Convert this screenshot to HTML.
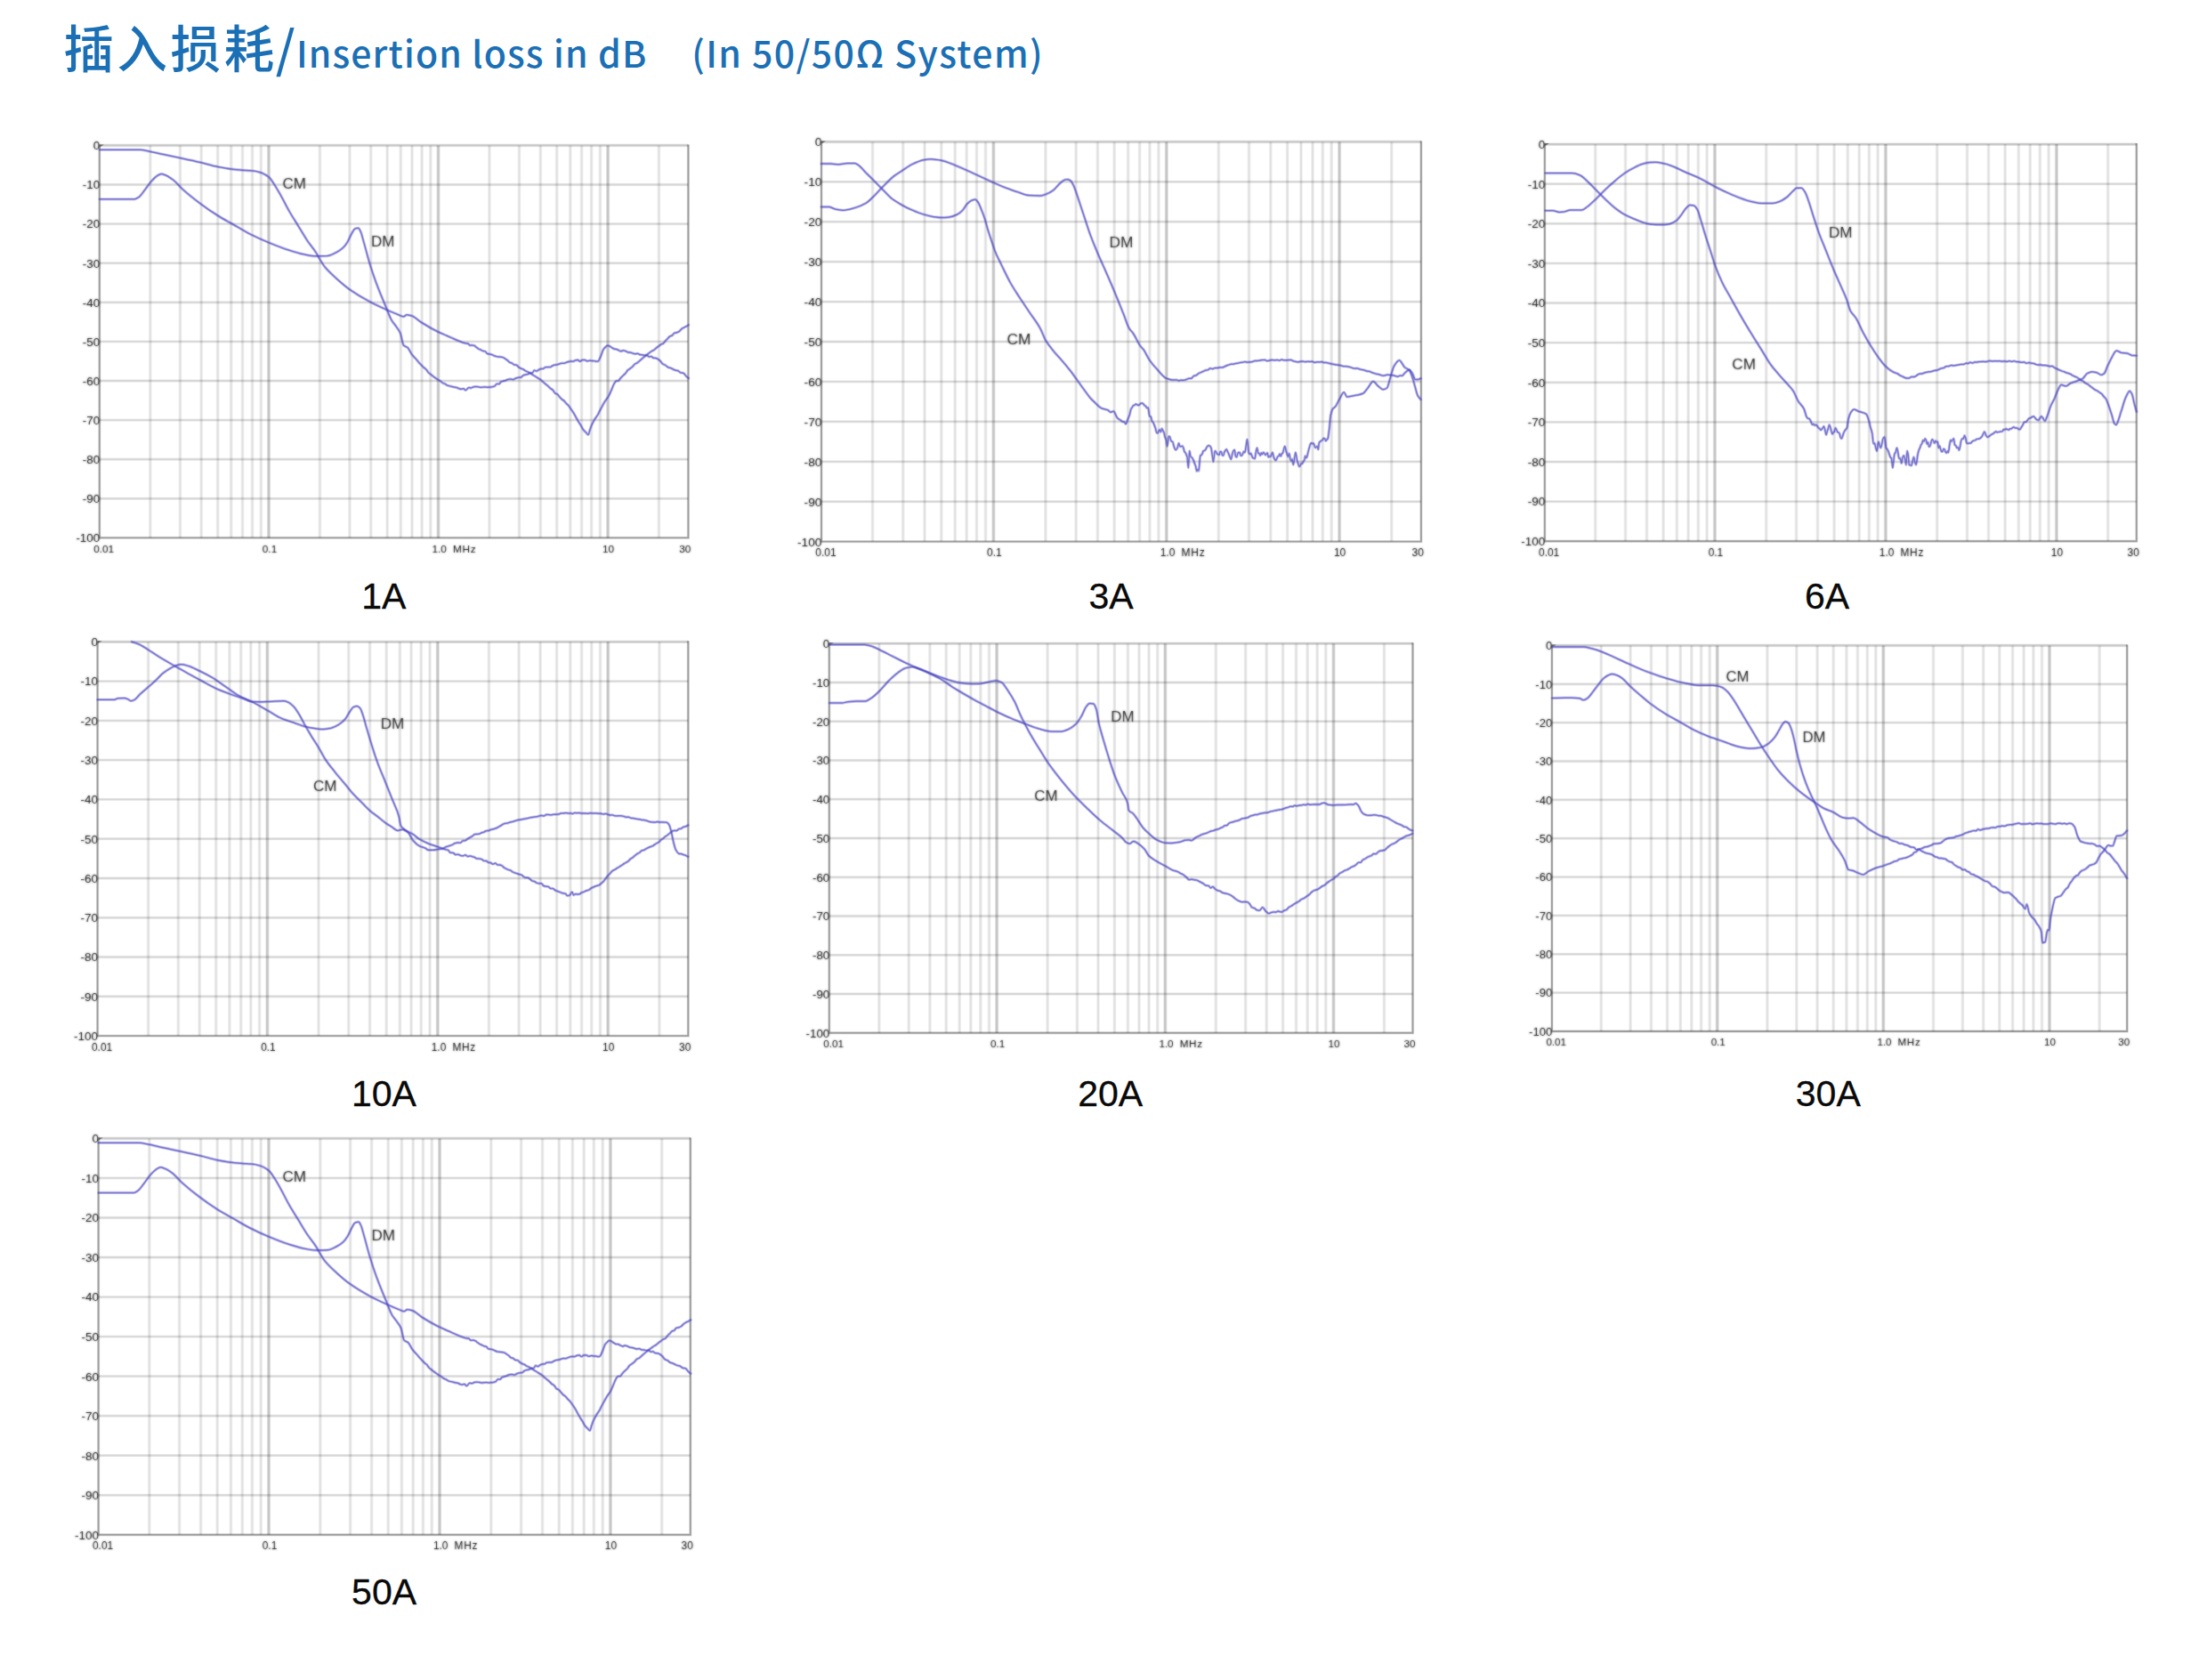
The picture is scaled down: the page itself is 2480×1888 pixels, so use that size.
<!DOCTYPE html>
<html lang="zh"><head><meta charset="utf-8"><title>插入损耗 / Insertion loss in dB</title>
<style>
html,body{margin:0;padding:0;background:#fff;}
body{width:2480px;height:1888px;overflow:hidden;position:relative;font-family:"Liberation Sans","Noto Sans CJK SC",sans-serif;}
svg{position:absolute;left:0;top:0;display:block;}
.title{position:absolute;left:0;top:0;margin:0;width:2480px;height:100px;color:#1b70b5;font-weight:500;font-family:"Noto Sans CJK SC","Liberation Sans",sans-serif;}
.title span{position:absolute;white-space:nowrap;line-height:100px;font-weight:500;}
.title .cn{left:71.4px;top:0.6px;font-size:56.5px;letter-spacing:0.064em;}
.title .cn .sl{position:static;margin-left:-2px;}
.title .e1{left:332.9px;top:7.7px;font-size:41px;letter-spacing:0.028em;}
.title .e2{left:777.3px;top:7.7px;font-size:41px;letter-spacing:0.034em;}
.ax{font-family:"Liberation Sans",sans-serif;fill:#333;}
.cv{font-family:"Liberation Sans",sans-serif;fill:#4a4a4a;}
.nm{font-family:"Liberation Sans",sans-serif;font-size:41px;fill:#0a0a0a;stroke:#0a0a0a;stroke-width:0.3px;}
.gm1,.gm2,.gh1,.gh2,.gd1,.gd2,.fr1,.fr2,.fa1,.fa2{fill:none;stroke:#000}
.gm1{stroke-width:3.8;stroke-opacity:.06}.gm2{stroke-width:2.0;stroke-opacity:.06}
.gh1{stroke-width:3.3;stroke-opacity:.07}.gh2{stroke-width:1.9;stroke-opacity:.09}
.gd1{stroke-width:4.2;stroke-opacity:.10}.gd2{stroke-width:2.5;stroke-opacity:.13}
.fr1{stroke-width:3.6;stroke-opacity:.08}.fr2{stroke-width:2.2;stroke-opacity:.14}
.fa1{stroke-width:3.3;stroke-opacity:.11}.fa2{stroke-width:1.9;stroke-opacity:.30}
.cu1,.cu2{fill:none;stroke:#4744aa;stroke-linejoin:round;stroke-linecap:round}.cu1{stroke:#5a55e6}
.cu1{stroke-width:3.3;stroke-opacity:.34}.cu2{stroke-width:1.5;stroke-opacity:.60}
</style></head><body>
<h1 class="title"><span class="cn">插入损耗<span class="sl">/</span></span><span class="e1">Insertion loss in dB</span> <span class="e2">(In 50/50Ω System)</span></h1>
<svg width="2480" height="1888" viewBox="0 0 2480 1888">
<defs><filter id="bt" x="-5%" y="-5%" width="110%" height="110%" color-interpolation-filters="sRGB"><feGaussianBlur stdDeviation="0.9" result="b"/><feComposite in="SourceGraphic" in2="b" operator="arithmetic" k1="0" k2="0.5" k3="0.75" k4="0"/></filter></defs>
<g id="chart1">
<path class="gm1" d="M168.8 163.4V604.4M202.4 163.4V604.4M226.2 163.4V604.4M244.7 163.4V604.4M259.7 163.4V604.4M272.5 163.4V604.4M283.5 163.4V604.4M293.3 163.4V604.4M359.4 163.4V604.4M392.9 163.4V604.4M416.7 163.4V604.4M435.2 163.4V604.4M450.3 163.4V604.4M463 163.4V604.4M474.1 163.4V604.4M483.8 163.4V604.4M549.9 163.4V604.4M583.5 163.4V604.4M607.3 163.4V604.4M625.7 163.4V604.4M640.8 163.4V604.4M653.6 163.4V604.4M664.6 163.4V604.4M674.4 163.4V604.4M740.4 163.4V604.4"/><path class="gm2" d="M168.8 163.4V604.4M202.4 163.4V604.4M226.2 163.4V604.4M244.7 163.4V604.4M259.7 163.4V604.4M272.5 163.4V604.4M283.5 163.4V604.4M293.3 163.4V604.4M359.4 163.4V604.4M392.9 163.4V604.4M416.7 163.4V604.4M435.2 163.4V604.4M450.3 163.4V604.4M463 163.4V604.4M474.1 163.4V604.4M483.8 163.4V604.4M549.9 163.4V604.4M583.5 163.4V604.4M607.3 163.4V604.4M625.7 163.4V604.4M640.8 163.4V604.4M653.6 163.4V604.4M664.6 163.4V604.4M674.4 163.4V604.4M740.4 163.4V604.4"/>
<path class="gh1" d="M111.8 207.5H773.4M111.8 251.6H773.4M111.8 295.7H773.4M111.8 339.8H773.4M111.8 383.9H773.4M111.8 428H773.4M111.8 472.1H773.4M111.8 516.2H773.4M111.8 560.3H773.4"/><path class="gh2" d="M111.8 207.5H773.4M111.8 251.6H773.4M111.8 295.7H773.4M111.8 339.8H773.4M111.8 383.9H773.4M111.8 428H773.4M111.8 472.1H773.4M111.8 516.2H773.4M111.8 560.3H773.4"/>
<path class="gd1" d="M302 163.4V604.4M492.5 163.4V604.4M683.1 163.4V604.4"/><path class="gd2" d="M302 163.4V604.4M492.5 163.4V604.4M683.1 163.4V604.4"/>
<path class="fr1" d="M111.8 163.4H773.4"/><path class="fr2" d="M111.8 163.4H773.4"/>
<path class="fa1" d="M111.8 162.4V604.4H773.4V162.4"/><path class="fa2" d="M111.8 162.4V604.4H773.4V162.4"/>
<path d="M112.3 165.2l4.5 -2.8l-4.5 0z" style="fill:#555;stroke:none;fill-opacity:.8"/>
<defs><path id="c1cm" d="M112 168.3c15.2-0 30.4-0 45.5-0c3.4-0 6.7 1.1 10 1.7c5 1 10 2.2 15 3.3c6.7 1.4 13.4 2.8 20 4.2c7.5 1.6 15.1 3.2 22.6 5c6.6 1.6 13.3 3.7 20 5c5 1 10 1.9 15 2.5c4.1 0.5 8.3 1 12.5 1.3c3.3 0.2 6.6 0.2 10 0.5c3.3 0.2 6.7 1 10 2c2.5 0.7 5 2.1 7.5 3.7c1 0.7 2 1.5 3 2.5c1.5 1.6 3 4 4.5 6.3c2.5 3.7 5 8.1 7.5 12.5c3.3 5.8 6.7 12.9 10 18.7c3.3 5.8 6.7 10.9 10 16.3c3.3 5.4 6.7 11.3 10 16.3c3.3 4.9 6.7 8.5 10 13.7c1.7 2.6 3.4 6.1 5 8.8c1.7 2.7 3.4 5.4 5 7.5c4.2 5.1 8.4 8.7 12.5 12.5c5 4.5 10 8.9 15 12.5c7.5 5.3 15 9.7 22.5 13.7c6.8 3.7 13.6 6.7 20.4 9.8c3.9 1.7 7.8 3.3 11.6 4.9c2.1 0.8 4.3 2.3 6.4 2.3c1.2 0 2.4-2 3.6-2c1.8 0 3.6 0.6 5.4 1.1c3.8 1.1 7.5 5.3 11.3 7.6c6.2 3.9 12.4 7.5 18.6 10.5c3.1 1.5 6.1 2.7 9.1 4c4.8 2.1 9.7 4.5 14.5 6.4c1.6 0.6 3.2 1.3 4.8 1.8c0.8 0.2 1.6 0.4 2.4 0.6c0.8 0.1 1.7 0.1 2.5 0.3c0.8 0.1 1.6 2 2.4 2c0.8-0 1.6-0.2 2.4-0.2c0.8 0 1.6 0.3 2.4 0.5c0.9 0.3 1.7 1.4 2.5 2c0.8 0.6 1.6 1.2 2.4 1.7c0.8 0.4 1.7 0.7 2.5 1.1c0.8 0.4 1.6 1 2.4 1.2c0.8 0.3 1.7 0.2 2.5 0.5c0.8 0.3 1.6 2.4 2.4 2.6c0.8 0.2 1.7 0.2 2.5 0.4c0.8 0.1 1.7 0.3 2.5 0.6c0.9 0.2 1.7 0.8 2.5 1.2c0.9 0.3 1.7 0.7 2.6 0.9c0.8 0.1 1.6 0.2 2.4 0.3c0.8 0.1 1.6 0.2 2.4 0.3c0.8 0.1 1.6 0.1 2.4 0.3c0.9 0.2 1.8 1 2.7 1.6c1 0.6 1.9 1.3 2.8 2c0.8 0.7 1.6 1.8 2.4 2.2c0.9 0.4 1.7 0.4 2.5 0.8c0.8 0.3 1.6 1.7 2.5 1.8c0.8 0.2 1.6 0.1 2.4 0.3c0.8 0.2 1.7 1.6 2.5 2.2c0.9 0.6 1.7 1.2 2.6 1.6c0.9 0.5 1.7 0.6 2.6 1c0.9 0.5 1.8 1.2 2.6 1.7c0.9 0.5 1.8 0.9 2.6 1.3c0.9 0.4 1.8 0.7 2.6 1.3c0.8 0.4 1.6 1.2 2.4 1.7c0.8 0.5 1.6 0.8 2.4 1.3c0.8 0.4 1.6 1 2.4 1.6c0.8 0.5 1.6 1 2.4 1.5c0.8 0.5 1.6 0.9 2.4 1.5c0.9 0.6 1.8 1.6 2.7 2.4c0.9 0.8 1.7 1.5 2.6 2.3c0.9 0.7 1.8 1.3 2.7 2.1c0.9 0.8 1.8 2 2.7 2.7c0.9 0.7 1.7 1 2.6 1.7c0.9 0.8 1.8 3 2.7 3.7c0.9 0.7 1.8 0.7 2.7 1.4c0.8 0.6 1.6 1.9 2.4 2.8c0.9 0.9 1.7 2 2.5 2.7c0.9 0.7 1.7 1 2.5 1.7c0.8 0.8 1.7 2.1 2.5 3c0.9 0.9 1.7 1.5 2.6 2.5c0.8 1 1.7 2.4 2.5 3.6c1 1.4 1.9 2.6 2.9 4.1c1 1.6 1.9 3.5 2.9 5.2c1 1.7 1.9 3.6 2.9 5.2c0.9 1.5 1.8 2.7 2.7 4.2c0.9 1.6 1.8 3.7 2.8 4.9c0.9 1.1 1.8 1.8 2.7 2.7c0.9 0.9 1.8 2.7 2.7 2.7c0.7-0 1.4-4.4 2.2-6.4c0.7-1.9 1.4-3.8 2.1-5.4c1-2.1 2-3.8 2.9-5.4c1.2-2 2.5-3.4 3.7-5.5c0.6-1 1.2-2.4 1.8-3.6c0.9-1.8 1.8-3.5 2.7-5.1c0.9-1.7 1.8-3.4 2.7-4.9c0.8-1.3 1.6-2.5 2.5-3.7c0.8-1.2 1.6-2.1 2.4-3.5c1-1.7 2-4.2 3-6.5c1-2.3 2-5.4 3-7.1c0.8-1.4 1.6-3 2.4-3.2c0.8-0.2 1.6-0.1 2.4-0.3c0.8-0.1 1.6-1.9 2.4-2.8c0.9-1.1 1.8-2 2.8-2.9c0.9-0.9 1.8-1.5 2.7-2.5c0.9-1 1.8-2.8 2.7-3.6c0.9-0.8 1.8-1.2 2.7-1.9c0.9-0.7 1.8-1.3 2.7-2.2c0.9-0.8 1.8-2.4 2.7-3c1-0.6 1.9-0.8 2.8-1.4c0.9-0.6 1.8-1.6 2.7-2.3c0.9-0.8 1.8-1.6 2.7-2.4c0.9-0.7 1.8-1.6 2.7-2.3c0.9-0.7 1.8-1.4 2.7-2c0.9-0.7 1.8-1.4 2.6-2.1c0.9-0.6 1.8-1.4 2.7-1.9c0.9-0.6 1.8-0.9 2.7-1.4c0.8-0.6 1.7-1.7 2.6-2.4c0.9-0.7 1.8-1.3 2.7-2c0.8-0.6 1.6-1.4 2.4-1.8c0.9-0.5 1.7-0.5 2.5-1c0.9-0.5 1.7-2.1 2.5-3c0.8-0.9 1.7-1.6 2.5-2.5c0.8-0.8 1.6-2.1 2.5-2.5c0.8-0.5 1.6-0.5 2.4-1c0.9-0.5 1.8-2.5 2.7-2.8c0.9-0.3 1.7-0.2 2.6-0.5c0.9-0.2 1.8-0.7 2.7-1.3c0.8-0.6 1.7-1.9 2.6-2.6c0.9-0.7 1.8-1.2 2.6-1.7c0.9-0.5 1.8-0.8 2.7-1.3c0.9-0.4 1.7-1 2.6-1.6"/></defs><use href="#c1cm" class="cu1"/><use href="#c1cm" class="cu2"/>
<defs><path id="c1dm" d="M112 223.8c13.1-0 26.2-0 39.3-0c1.6-0 3.3-1.4 5-2.5c2.1-1.5 4.1-4.9 6.2-7.5c2.5-3.2 5-7.3 7.5-10c2.5-2.7 5-5.5 7.5-6.8c1.3-0.6 2.5-1.5 3.8-1.5c1.7 0 3.3 0.9 5 1.5c2.9 1.2 5.8 3.3 8.7 5.5c3.4 2.6 6.7 7 10 10c6.7 6.1 13.4 11.3 20.1 16.3c6.6 5 13.3 9.6 20 13.7c5.8 3.7 11.6 6.7 17.5 10c5.8 3.4 11.6 7.1 17.5 10.1c7.7 3.9 15.3 7.3 23 10.5c7.3 3 14.7 5.9 22 8.2c5 1.6 10 3.3 15 4.3c5 0.9 10 2.2 15 2.2c4.2 0 8.4-0.1 12.5-0.2c3.4-0.2 6.7-2.2 10-3.8c2.5-1.2 5-2.8 7.5-5c1.7-1.5 3.4-3.7 5-6.2c1.7-2.6 3.4-7.2 5-10c1.3-2.1 2.5-5.1 3.8-5.6c1.2-0.4 2.5-0.7 3.7-0.7c0.9-0 1.7 2.1 2.5 3.7c1.3 2.6 2.5 8.2 3.8 12.6c2.1 7.1 4.2 15.6 6.2 22.5c2.5 8.2 5 15.6 7.5 22.5c3.4 9.1 6.7 17 10.1 25c2.5 6 5 13.3 7.5 17.5c1.7 2.9 3.4 4.4 5.1 7c1.5 2.2 3 3.8 4.5 7.2c1.2 2.8 2.5 12.3 3.7 13.6c1.5 1.6 3 1.4 4.5 2.7c1.5 1.3 3 5.2 4.5 7.3c2.1 2.8 4.3 4.7 6.4 7.2c0.8 1 1.6 2.1 2.4 3c0.8 0.9 1.6 1.6 2.5 2.5c0.8 0.8 1.6 1.7 2.5 2.5c0.8 0.7 1.6 1.1 2.4 1.9c0.9 0.8 1.7 2.6 2.5 3.5c0.9 0.8 1.7 1.4 2.5 2c1 0.8 2 1.5 2.9 2.3c1 0.7 2 1.4 2.9 2.1c1 0.7 2 1.4 2.9 2c0.9 0.5 1.7 0.9 2.6 1.4c0.8 0.6 1.7 1.6 2.5 2.1c0.9 0.4 1.7 0.6 2.5 1c0.9 0.5 1.7 1.2 2.6 1.6c0.8 0.3 1.7 0.5 2.5 0.8c0.9 0.2 1.8 0.4 2.7 0.6c0.9 0.2 1.9 0.5 2.8 0.7c0.9 0.2 1.8 0.3 2.7 0.5c0.9 0.2 1.8 1 2.7 1.2c0.8 0.3 1.6 0.5 2.4 0.5c0.8 0 1.6-0.5 2.4-0.5c0.8-0 1.6 1.8 2.4 1.8c1.3 0 2.5-3 3.7-3c0.8-0 1.6 0.4 2.4 0.4c0.8-0 1.6-0.9 2.4-1.1c0.8-0.2 1.6-0.4 2.4-0.4c1-0 2 0.1 3 0.2c1 0.1 2.1 0.6 3.1 0.6c1-0 2-0.2 3-0.3c0.7-0 1.5-0.1 2.3-0.1c0.7-0 1.5 0.3 2.3 0.3c0.7-0 1.5-0.1 2.3-0.2c0.9-0 1.9-0.1 2.9-0.2c0.9-0.2 1.9-0.5 2.9-1c0.8-0.5 1.6-2.4 2.4-2.4c0.8 0 1.6 0.1 2.4 0.1c0.8-0 1.6-2.1 2.4-2.5c0.8-0.3 1.6-0.5 2.4-0.7c0.8-0.3 1.6-0.4 2.5-0.6c0.8-0.3 1.6-1 2.4-1.2c1-0.2 2.1-0.5 3.1-0.5c1.1 0 2.2 0.5 3.2 0.5c1 0 2-1.1 3-1.5c1-0.3 2-0.8 3-0.8c0.9-0.1 1.7-0.1 2.6-0.2c0.9-0.1 1.7-1.6 2.6-2.1c0.9-0.4 1.8-0.6 2.6-0.9c0.9-0.2 1.8-0.3 2.6-0.5c0.9-0.3 1.8-1.1 2.6-1.2c0.8-0.2 1.6-0.1 2.4-0.3c0.8-0.1 1.6-2.8 2.4-2.8c0.8 0 1.6 0.9 2.4 0.9c0.8 0 1.6-1.1 2.4-1.5c0.8-0.4 1.6-0.9 2.4-1.1c0.9-0.1 1.8-0.1 2.7-0.2c0.9-0.2 1.7-1.6 2.6-1.6c0.9-0.1 1.8-0.1 2.7-0.1c0.9-0 1.8-0 2.7-0.1c0.9-0 1.7-1.1 2.6-1.5c0.9-0.4 1.8-0.8 2.7-0.9c0.9-0.2 1.8-0.3 2.7-0.4c0.8-0.2 1.6-0.6 2.5-0.9c0.8-0.2 1.6-0.6 2.5-0.6c0.8-0 1.7 0 2.5 0c0.8 0 1.7-0.6 2.5-0.9c0.8-0.3 1.7-0.7 2.5-0.9c0.8-0.2 1.7-0.4 2.5-0.4c0.9 0 1.7 0.1 2.6 0.1c0.8 0 1.7-1 2.6-1.2c0.8-0.2 1.7-0.4 2.5-0.4c0.9-0 1.8 1.6 2.6 1.6c0.9-0 1.7-1.5 2.6-1.5c0.9-0.1 1.8-0.1 2.7-0.1c1 0 1.9 1.3 2.8 1.3c0.9 0 1.9-0.6 2.8-0.6c0.9 0 1.8 0.2 2.7 0.3c0.8 0 1.5 0 2.2 0.1c0.7 0 1.5 0.5 2.2 0.5c0.7 0 1.4-0 2.2-0.1c0.9-0 1.8-2.7 2.7-4.5c1.2-2.4 2.4-7.3 3.6-9.1c0.8-1.1 1.5-1.8 2.3-2.5c0.7-0.6 1.5-1.6 2.2-1.6c0.8-0 1.6 0.5 2.5 0.8c0.8 0.4 1.6 1.1 2.4 1.6c0.8 0.5 1.6 1.2 2.4 1.4c0.8 0.2 1.7 0.2 2.6 0.4c0.8 0.2 1.7 0.7 2.6 1.1c0.8 0.3 1.7 1.1 2.6 1.1c0.8 0 1.7-0.9 2.5-0.9c0.9-0 1.8 0.4 2.6 0.7c0.9 0.3 1.8 1.2 2.6 1.4c0.9 0.1 1.7 0.1 2.6 0.2c0.9 0.1 1.8 0.5 2.7 0.8c0.9 0.2 1.8 0.8 2.7 0.8c1-0 1.9-0.4 2.8-0.4c0.9 0 1.8 1.1 2.7 1.2c0.9 0.2 1.8 0.2 2.7 0.3c0.9 0.1 1.8 0.5 2.7 0.5c0.8 0 1.6-0.1 2.4-0.1c0.8 0 1.6 1.7 2.5 1.7c0.8-0 1.6-0.3 2.4-0.3c0.8-0 1.6 1.5 2.4 1.6c0.8 0.2 1.6 0.1 2.4 0.2c0.8 0.1 1.6 0.5 2.4 0.9c1 0.5 2 1.4 3 2.3c1 1 2.1 2.9 3.1 3.6c1 0.6 2 0.8 3 1.4c0.9 0.5 1.8 1.7 2.7 2.1c0.9 0.4 1.8 0.5 2.7 0.8c0.9 0.3 1.8 0.9 2.7 1.3c0.9 0.5 1.9 0.9 2.8 1.2c1 0.3 2 0.4 3 0.7c1 0.4 2 1.8 3 2.1c1 0.2 2 0.2 3 0.5c1 0.2 2 2.2 2.9 3.2c1 0.9 2 1.7 2.9 2.6"/></defs><use href="#c1dm" class="cu1"/><use href="#c1dm" class="cu2"/>
<g filter="url(#bt)">
<g class="ax" font-size="13.4" text-anchor="end">
<text x="112.2" y="168.2">0</text>
<text x="112.2" y="212.3">-10</text>
<text x="112.2" y="256.4">-20</text>
<text x="112.2" y="300.5">-30</text>
<text x="112.2" y="344.6">-40</text>
<text x="112.2" y="388.7">-50</text>
<text x="112.2" y="432.8">-60</text>
<text x="112.2" y="476.9">-70</text>
<text x="112.2" y="521">-80</text>
<text x="112.2" y="565.1">-90</text>
<text x="112.2" y="609.2">-100</text>
</g>
<g class="ax" font-size="11.8" text-anchor="middle">
<text x="105.2" y="620.8" text-anchor="start">0.01</text>
<text x="303" y="620.8">0.1</text>
<text x="493.7" y="620.8">1.0</text>
<text x="509" y="620.8" text-anchor="start" letter-spacing="0.7">MHz</text>
<text x="683.6" y="620.8">10</text>
<text x="776.4" y="620.8" text-anchor="end">30</text>
</g>
<g class="cv" font-size="17.0">
<text x="317.5" y="211.7">CM</text>
<text x="417" y="276.5">DM</text>
</g>
</g>
<text class="nm" x="431.4" y="683.8" text-anchor="middle">1A</text>
</g>
<g id="chart2">
<path class="gm1" d="M980.5 159.4V608.6M1014.7 159.4V608.6M1039 159.4V608.6M1057.8 159.4V608.6M1073.2 159.4V608.6M1086.2 159.4V608.6M1097.5 159.4V608.6M1107.5 159.4V608.6M1174.9 159.4V608.6M1209.1 159.4V608.6M1233.4 159.4V608.6M1252.2 159.4V608.6M1267.6 159.4V608.6M1280.6 159.4V608.6M1291.9 159.4V608.6M1301.9 159.4V608.6M1369.3 159.4V608.6M1403.5 159.4V608.6M1427.8 159.4V608.6M1446.6 159.4V608.6M1462 159.4V608.6M1475 159.4V608.6M1486.3 159.4V608.6M1496.2 159.4V608.6M1563.7 159.4V608.6"/><path class="gm2" d="M980.5 159.4V608.6M1014.7 159.4V608.6M1039 159.4V608.6M1057.8 159.4V608.6M1073.2 159.4V608.6M1086.2 159.4V608.6M1097.5 159.4V608.6M1107.5 159.4V608.6M1174.9 159.4V608.6M1209.1 159.4V608.6M1233.4 159.4V608.6M1252.2 159.4V608.6M1267.6 159.4V608.6M1280.6 159.4V608.6M1291.9 159.4V608.6M1301.9 159.4V608.6M1369.3 159.4V608.6M1403.5 159.4V608.6M1427.8 159.4V608.6M1446.6 159.4V608.6M1462 159.4V608.6M1475 159.4V608.6M1486.3 159.4V608.6M1496.2 159.4V608.6M1563.7 159.4V608.6"/>
<path class="gh1" d="M923 204.3H1596.9M923 249.2H1596.9M923 294.2H1596.9M923 339.1H1596.9M923 384H1596.9M923 428.9H1596.9M923 473.8H1596.9M923 518.8H1596.9M923 563.7H1596.9"/><path class="gh2" d="M923 204.3H1596.9M923 249.2H1596.9M923 294.2H1596.9M923 339.1H1596.9M923 384H1596.9M923 428.9H1596.9M923 473.8H1596.9M923 518.8H1596.9M923 563.7H1596.9"/>
<path class="gd1" d="M1116.4 159.4V608.6M1310.8 159.4V608.6M1505.1 159.4V608.6"/><path class="gd2" d="M1116.4 159.4V608.6M1310.8 159.4V608.6M1505.1 159.4V608.6"/>
<path class="fr1" d="M923 159.4H1596.9"/><path class="fr2" d="M923 159.4H1596.9"/>
<path class="fa1" d="M923 158.4V608.6H1596.9V158.4"/><path class="fa2" d="M923 158.4V608.6H1596.9V158.4"/>
<path d="M923.5 161.2l4.5 -2.8l-4.5 0z" style="fill:#555;stroke:none;fill-opacity:.8"/>
<defs><path id="c2cm" d="M922.9 184c3.5-0 7-0 10.4-0c2.8-0 5.6 0.8 8.4 0.8c3.5 0 6.9-1.2 10.4-1.2c2.8-0 5.6-0 8.3-0c1.4-0 2.8 1.2 4.2 2c2.8 1.8 5.6 5.6 8.3 8.4c2.8 2.8 5.6 5.5 8.4 8.3c3.1 3.1 6.2 6.3 9.4 9.4c3.8 3.8 7.6 8.5 11.4 11.5c3.9 2.9 7.7 5.1 11.5 7.3c3.8 2.1 7.6 3.9 11.5 5.6c4.1 1.8 8.3 3.6 12.5 4.8c3.4 1 6.9 1.9 10.4 2.5c3.5 0.5 6.9 1.2 10.4 1.2c2.8 0 5.6-0.3 8.3-0.6c2.8-0.3 5.6-1.4 8.4-2.7c2.1-1 4.1-2.6 6.2-4.6c1.8-1.7 3.5-5.5 5.2-7.3c1.8-1.8 3.5-3.5 5.3-4.2c1.3-0.5 2.7-1 4.1-1c1.1 0 2.1 1.7 3.1 3.1c1.4 1.9 2.8 5.9 4.2 9.4c1.3 3.1 2.5 6.5 3.8 10.4c1.1 3.7 2.3 8.7 3.5 12.5c2.1 6.8 4.2 12.5 6.3 18.8c0.3 1 0.7 2.2 1 3.1c2.4 6.4 4.9 10.6 7.3 15.7c3.5 7.2 6.9 14.6 10.4 20.8c3.5 6.2 7 11.3 10.4 16.7c3.5 5.3 7 10.4 10.5 15.6c4.1 6.3 8.3 11.2 12.5 18.8c2.1 3.7 4.1 10 6.2 13.5c2.8 4.7 5.6 8 8.4 11.5c2.7 3.4 5.5 6.1 8.3 9.4c3.5 4 6.9 8 10.4 12.5c2.8 3.5 5.6 7.6 8.4 11.4c2.7 3.8 5.5 7.7 8.3 11.5c2.1 2.8 4.2 6 6.2 8.3c1.4 1.6 2.8 2.9 4.2 4.2c2.8 2.6 5.6 6 8.4 7.3c2.5 1.1 5 1.1 7.5 2.3c0.8 0.4 1.7 2.2 2.6 2.2c1.1 0 2.3-1 3.4-1c1.5 0 2.9 6 4.3 7.4c1.2 1.2 2.3 1.8 3.5 2.6c0.9 0.6 1.7 1.6 2.6 1.7c0.6 0.2 1.1 0.1 1.7 0.2c0.6 0.2 1.2 2.4 1.7 2.4c0.5 0 0.9-1.6 1.3-2.6c0.5-1 0.9-2.3 1.3-3.4c0.6-1.5 1.2-2.9 1.8-4.7c0.5-1.8 1.1-5.4 1.7-6.5c0.4-0.9 0.8-1.2 1.3-1.8c0.4-0.6 0.8-1.9 1.3-2c0.4-0.1 0.8-0.1 1.3-0.2c0.4-0.1 0.8-1.2 1.3-1.2c0.4-0 0.9 0.4 1.4 0.6c0.5 0.2 1 0.7 1.4 0.7c0.5 0 1-0.5 1.5-0.8c0.5-0.3 0.9-1.1 1.4-1.3c0.5-0.1 1-0.2 1.4-0.2c0.5 0 1 0.6 1.5 1c0.4 0.4 0.9 1.3 1.3 1.6c0.4 0.4 0.8 0.4 1.3 0.8c0.4 0.4 0.8 2 1.3 2c0.4-0 0.8-0.4 1.3-0.4c0.5-0 1.1 9.8 1.7 9.8c0.4 0 0.9 0 1.3 0.1c0.4 0 0.9 4.2 1.3 5c0.4 0.8 0.8 0.9 1.3 1.6c0.4 0.7 0.8 1.8 1.3 2.8c0.4 1 0.8 2.2 1.3 3.5c0.4 1.4 0.8 4.7 1.3 5.1c0.4 0.4 0.8 0.7 1.2 0.7c0.4 0 0.8-1.7 1.2-2.3c0.4-0.6 0.8-1.4 1.2-1.4c0.4 0 0.8 2.5 1.2 2.5c0.4-0 0.8-3.8 1.2-3.8c0.4 0 0.8 1.7 1.2 2.4c0.3 0.7 0.7 1 1.1 1.9c0.4 1 0.8 4 1.2 5.2c0.4 1.3 0.8 1.6 1.3 3c0.4 1.4 0.8 7.4 1.2 7.4c0.6-0 1.2-11.3 1.8-11.3c0.3 0 0.7 0.3 1.1 0.7c0.3 0.4 0.7 2.6 1 3.4c0.4 0.8 0.8 1.8 1.1 1.8c0.4 0.1 0.7 0.1 1.1 0.2c0.4 0.1 0.7 2.8 1.1 4c0.3 1.2 0.7 2.5 1.1 3.3c0.3 0.8 0.7 1.9 1 1.9c0.4 0 0.7-0.3 1.1-0.6c0.4-0.3 0.9-1.3 1.3-2.4c0.4-1 0.9-4.5 1.3-4.5c0.4 0 0.9 3.4 1.3 3.5c0.4 0.1 0.9 0.2 1.3 0.2c0.4 0 0.9-0.6 1.3-0.6c0.4-0 0.8 1.1 1.3 2.1c0.3 0.8 0.7 3.3 1.1 4c0.3 0.7 0.7 0.8 1 1.3c0.4 0.6 0.8 1.4 1.1 2.2c0.4 0.8 0.7 1.4 1.1 2.9c0.4 1.6 0.8 12 1.2 12c0.5 0 0.9-18.9 1.4-18.9c0.4-0 0.8 5.6 1.1 6.1c0.4 0.6 0.8 0.5 1.2 0.9c0.4 0.4 0.8 1 1.1 1.6c0.4 0.6 0.8 1.3 1.2 2.2c0.4 0.9 0.8 2.4 1.1 3.5c0.4 1.1 0.8 1.6 1.2 2.9c0.4 1.3 0.8 5.6 1.1 5.6c0.4 0 0.8-2.4 1.2-2.4c0.4-0 0.8 2 1.1 2c0.6-0 1.2-16.9 1.8-17.3c0.4-0.2 0.7-0.2 1.1-0.4c0.4-0.3 0.8-1.2 1.2-1.9c0.4-0.8 0.7-2.7 1.1-2.8c0.4-0.2 0.8-0.2 1.2-0.3c0.4-0.1 0.7-0.5 1.1-1c0.4-0.5 0.8-1.5 1.2-2.2c0.4-0.7 0.8-1.7 1.3-2c0.4-0.3 0.8-0.6 1.3-0.6c0.4 0 0.8 0.3 1.3 0.6c0.4 0.4 0.8 1 1.3 2c0.4 1 0.8 5 1.2 7.6c0.5 2.6 0.9 7.9 1.3 7.9c0.6 0 1.2-12 1.8-12c0.4-0 0.8 0.7 1.3 1.2c0.4 0.5 0.8 1.9 1.3 2.2c0.3 0.3 0.7 0.4 1.1 0.5c0.4 0.2 0.8 0.4 1.2 0.4c0.3-0 0.7-3.5 1.1-3.5c0.4 0 0.8 0 1.2 0.1c0.3 0.1 0.7 3.5 1.1 3.8c0.4 0.2 0.8 0.4 1.2 0.4c0.3 0 0.7-2.9 1.1-3.8c0.4-0.8 0.8-1.3 1.2-1.8c0.4-0.5 0.7-1.3 1.1-1.3c0.5 0 0.9 1.5 1.3 2.3c0.4 0.9 0.9 1.9 1.3 2.9c0.4 1 0.9 2.3 1.3 3.3c0.4 1 0.9 2.7 1.3 2.7c0.4 0 0.9-3.8 1.3-5.3c0.4-1.6 0.9-3.6 1.3-4.1c0.4-0.6 0.9-1.2 1.3-1.2c0.4 0 0.8 6.6 1.3 7.2c0.4 0.5 0.7 0.9 1.1 0.9c0.4-0 0.8-3.6 1.2-4.1c0.4-0.6 0.7-1.1 1.1-1.1c0.4-0 0.8 0.1 1.2 0.2c0.4 0.1 0.7 3.3 1.1 3.3c0.4-0 0.8-0 1.2-0.1c0.4 0 0.8-1.3 1.1-2c0.4-0.7 0.8-2.5 1.2-2.5c0.4 0 0.8 1.1 1.1 1.1c0.5-0 0.9-4.1 1.3-6.5c0.5-2.4 0.9-8.2 1.3-8.2c0.6 0 1.2 13.1 1.8 14.7c0.3 1 0.7 1.9 1.1 1.9c0.4-0 0.8-0.9 1.2-0.9c0.3 0 0.7 1.6 1.1 2.4c0.4 0.9 0.8 2.4 1.2 2.6c0.3 0.3 0.7 0.3 1.1 0.4c0.4 0.2 0.8 0.5 1.2 0.5c0.4-0 0.8-6 1.3-7.8c0.4-1.9 0.8-4.3 1.2-4.3c0.4-0 0.8 5.5 1.2 5.8c0.4 0.3 0.8 0.2 1.2 0.5c0.3 0.2 0.7 2.3 1.1 2.3c0.4 0 0.8-2.9 1.2-2.9c0.3 0 0.7 1.5 1.1 1.5c0.4-0 0.8-2 1.2-2c0.3-0 0.7 0.4 1.1 0.8c0.4 0.4 0.8 2 1.2 2c0.3-0 0.7-0.7 1.1-1.1c0.4-0.4 0.8-1.2 1.2-1.2c0.3-0 0.7 4.7 1.1 4.7c0.4 0 0.8-0.9 1.2-0.9c0.3-0 0.7 0.2 1.1 0.2c0.4-0 0.8-1.1 1.2-1.9c0.3-0.7 0.7-2.6 1.1-2.6c0.4-0 0.9 3.7 1.3 4.9c0.4 1.2 0.9 2.3 1.3 2.8c0.4 0.5 0.8 1.1 1.2 1.1c0.3 0 0.7-1.4 1.1-2.1c0.4-0.8 0.8-2.2 1.2-2.4c0.3-0.2 0.7-0.2 1-0.4c0.4-0.2 0.8-2.2 1.1-2.2c0.4 0 0.7 2.5 1.1 2.5c0.4 0 0.7-2 1.1-2.5c0.4-0.6 0.7-0.6 1.1-1.2c0.4-0.6 0.8-2.7 1.2-4c0.4-1.2 0.7-3.4 1.1-3.4c0.5-0 0.9 3.2 1.3 4.6c0.5 1.5 0.9 2.8 1.3 4c0.4 1.1 0.8 3 1.2 3c0.3-0 0.7-3.5 1.1-3.5c0.4-0 0.8 4.4 1.2 5.7c0.4 1.3 0.7 2.9 1.1 2.9c0.4-0 0.8-2.3 1.2-2.3c0.4 0 0.7 6.3 1.1 6.3c0.5-0 0.9-4.1 1.3-6.4c0.4-2.3 0.9-7.4 1.3-7.4c0.6-0 1.2 6.3 1.7 8.6c0.4 1.5 0.8 2.6 1.2 3.8c0.4 1.2 0.8 3.4 1.1 3.4c0.4-0 0.8-0.7 1.2-1.1c0.4-0.5 0.8-2.2 1.1-2.2c0.4 0 0.8 0.1 1.2 0.1c0.4-0 0.8-1.7 1.1-2.3c0.4-0.6 0.8-0.7 1.2-1.4c0.4-0.8 0.8-5 1.1-5c0.4 0 0.8 2.1 1.2 2.1c0.4 0 0.7-1.3 1.1-2.4c0.3-1.1 0.7-3.5 1.1-4.9c0.3-1.3 0.7-2.3 1-3.5c0.4-1.2 0.8-3 1.1-3.9c0.4-0.9 0.8-2 1.2-2c0.3 0 0.7 0.9 1.1 0.9c0.4 0 0.8-0.6 1.2-0.6c0.3 0 0.7 0.9 1.1 1.7c0.4 0.7 0.8 3.3 1.2 3.3c0.4 0 0.7-0.4 1.1-0.7c0.4-0.2 0.7-0.9 1.1-0.9c0.4-0 0.7 3.7 1.1 3.7c0.3-0 0.7-7.3 1.1-7.9c0.3-0.5 0.7-0.6 1-0.9c0.5-0.4 0.9-1 1.3-1.2c0.5-0.3 0.9-0.3 1.3-0.5c0.5-0.3 0.9-2.1 1.3-2.1c0.5-0 0.9 0.1 1.3 0.3c0.4 0.2 0.8 2.6 1.2 2.6c0.3-0 0.7-1 1.1-1.4c0.4-0.5 0.8-0.5 1.2-1.2c0.5-0.9 1.1-7.3 1.7-12c0.5-3.9 0.9-11.5 1.4-13.9c0.7-3.5 1.4-5.8 2-6.9c1.2-1.8 2.3-2 3.5-3.4c1.4-1.8 2.9-5.4 4.3-7.8c1.7-2.9 3.5-8.1 5.2-8.1c1.1-0 2.3 5.2 3.4 5.2c2.1-0 4.1-0.7 6.1-1.1c2.3-0.4 4.6-0.6 6.9-1.2c1.7-0.4 3.4-0.8 5.2-1.7c1.7-0.9 3.4-4 5.2-6c2-2.4 4-7.3 6-7.3c2 0 4 4 6 5.5c1.8 1.4 3.5 3.5 5.2 3.5c1.5-0 2.9-0.7 4.3-1.7c1.2-0.9 2.3-6.8 3.5-10.4c1.4-4.4 2.9-11.3 4.3-13.8c2-3.5 4-6.9 6-6.9c2.1-0 4.1 6 6.1 7.8c1.7 1.5 3.4 1.6 5.2 3.4c1.1 1.2 2.3 4.6 3.4 7.8c1.2 3.1 2.3 8.1 3.5 12.1c0.8 2.9 1.7 7 2.6 8.6c1.1 2.1 2.3 2.9 3.4 4.3"/></defs><use href="#c2cm" class="cu1"/><use href="#c2cm" class="cu2"/>
<defs><path id="c2dm" d="M922.9 232.5c2.8 0 5.6 0 8.4 0c2.4 0 4.8 2 7.3 2.5c2.7 0.6 5.5 1.3 8.3 1.3c4.5-0 9-1.5 13.5-2.7c4.2-1.2 8.4-2.8 12.5-5.2c2.8-1.6 5.6-4.7 8.4-7.3c3.1-3 6.2-6.7 9.4-9.8c4.5-4.6 9-9.6 13.5-13.2c3.1-2.4 6.3-4.2 9.4-6.2c3.8-2.5 7.6-5.5 11.5-7.3c4.1-2 8.3-4 12.5-4.8c2.7-0.5 5.5-1 8.3-1c4.2-0 8.3 0.8 12.5 1.6c4.9 1 9.7 3.3 14.6 5.2c4.9 1.9 9.7 4.1 14.6 6.3c6.4 2.9 12.9 6 19.4 9c3.2 1.5 6.5 3.1 9.8 4.5c4.1 1.9 8.3 3.6 12.5 5.3c4.8 1.8 9.7 3.6 14.6 5.2c4.1 1.3 8.3 3.5 12.5 3.7c4.1 0.3 8.3 0.4 12.5 0.4c2.1 0 4.1-0.9 6.2-1.6c2.8-1 5.6-2.6 8.4-4.6c2.7-2 5.5-6.1 8.3-8.4c1.7-1.3 3.5-3.3 5.2-3.5c1.1-0.1 2.1-0.2 3.1-0.2c1.1-0 2.1 0.8 3.2 1.7c1 0.8 2 3 3.1 5.2c1.4 2.8 2.8 7.5 4.2 11.4c2 6 4.1 12.5 6.2 18.8c2.8 8.3 5.6 17.4 8.3 25c2.8 7.6 5.6 14.3 8.4 20.8c2.8 6.6 5.5 12.4 8.3 18.8c4.2 9.5 8.4 19.1 12.5 29.2c2.8 6.7 5.6 13.9 8.4 20.8c2 5.2 4.1 12.3 6.2 15.7c1.4 2.2 2.8 3.2 4.2 5.2c2.8 3.9 5.5 10.8 8.3 14.6c1.2 1.5 2.3 2.3 3.5 3.9c2.3 3.1 4.6 8.8 6.9 12.1c2.9 4.1 5.7 7.3 8.6 10.3c3.5 3.8 6.9 8.7 10.4 10.1c2.3 0.8 4.6 1.7 6.9 1.7c1.5-0 3.1-0.1 4.6-0.1c0.8 0 1.5 0.8 2.3 0.8c0.8-0 1.5-0.5 2.3-0.5c0.8 0 1.5 0.1 2.3 0.1c0.8 0 1.5-0.1 2.3-0.3c0.8-0.2 1.5-0.6 2.3-0.9c0.8-0.3 1.5-0.7 2.3-0.8c0.8-0 1.5 0 2.3-0c1-0.1 1.9-2.1 2.9-2.6c0.9-0.5 1.9-0.6 2.9-1c0.9-0.5 1.9-1.6 2.8-2.1c0.9-0.5 1.8-0.8 2.6-1.2c0.9-0.4 1.8-0.8 2.6-1.1c0.9-0.4 1.7-0.9 2.6-1.2c0.9-0.2 1.7-0.2 2.6-0.5c0.9-0.3 1.7-1.6 2.6-1.6c0.9 0 1.7 0.5 2.6 0.5c0.8 0 1.7-0.8 2.6-0.9c0.8-0 1.7-0 2.6-0.1c0.9-0 1.9-0.6 2.8-0.6c1-0 2 0 2.9 0c1 0 1.9-0.7 2.9-1.1c0.8-0.3 1.5-0.8 2.3-1.1c0.8-0.3 1.5-0.5 2.3-0.7c0.8-0.3 1.5-0.8 2.3-0.8c0.9 0 1.7 0 2.6 0c0.9 0 1.7-0.7 2.6-0.8c0.8-0.1 1.7-0.1 2.6-0.2c0.8-0.1 1.7-0.7 2.6-0.8c0.8-0.1 1.7-0.1 2.5-0.2c0.9-0.1 1.8-0.6 2.6-0.6c0.9-0 1.8 0.4 2.6 0.4c1-0 1.9-0.1 2.8-0.1c1-0 1.9-0.1 2.8-0.3c1-0.1 1.9-0.9 2.8-1c1-0.1 1.9-0.1 2.8-0.2c1-0.1 2-0.2 2.9-0.4c1-0.1 1.9-0.3 2.9-0.4c1-0 1.9-0.1 2.9-0.1c0.9 0 1.8 1.1 2.7 1.1c1-0 1.9-0.5 2.8-0.7c0.9-0.1 1.8-0.4 2.8-0.4c0.9-0 1.8 0.3 2.7 0.3c1 0 1.9-0.3 2.8-0.3c0.9 0 1.7 0.6 2.6 0.6c0.8-0 1.7-1 2.6-1c0.8 0 1.7 0.7 2.6 0.7c0.8-0 1.7-0 2.6-0c0.8-0 1.7-0.2 2.5-0.2c0.9-0.1 1.8-0.1 2.6-0.1c0.9 0 1.8 1 2.6 1.2c0.9 0.3 1.7 0.4 2.6 0.6c0.9 0.1 1.8 0.5 2.7 0.5c0.9-0 1.8-0.4 2.7-0.5c0.9-0.1 1.8-0.2 2.8-0.2c0.9 0 1.8 0.5 2.7 0.5c0.9 0 1.8-0.3 2.7-0.3c0.9 0 1.8 0.1 2.7 0.1c0.9 0 1.8-0.1 2.7-0.1c0.9-0 1.7 1 2.6 1c0.9-0 1.7-0.5 2.6-0.5c0.8 0 1.7 0.1 2.6 0.1c0.8-0 1.7-0.3 2.6-0.3c0.8-0 1.7 0.8 2.6 0.8c0.8 0.1 1.7 0.1 2.5 0.1c0.9 0 1.7 0.4 2.5 0.6c0.8 0.2 1.6 0.4 2.4 0.6c0.8 0.2 1.7 0.3 2.5 0.5c0.8 0.2 1.6 0.4 2.4 0.5c0.8 0.2 1.7 0.2 2.5 0.3c0.8 0.1 1.6 0.3 2.4 0.4c0.8 0.2 1.6 0.4 2.5 0.6c0.8 0.2 1.6 0.7 2.4 0.7c0.8 0 1.6 0 2.5 0c0.8 0 1.6 0.3 2.4 0.4c0.8 0.2 1.6 0.3 2.4 0.5c0.9 0.2 1.7 0.7 2.5 0.9c0.9 0.3 1.8 0.6 2.8 0.6c0.9 0 1.8-0.2 2.7-0.2c0.9-0 1.9 0.7 2.8 1c0.9 0.3 1.8 0.4 2.7 0.6c1 0.2 1.9 0.4 2.8 0.6c0.9 0.3 1.8 0.9 2.8 1c0.9 0.2 1.8 0.2 2.7 0.3c0.9 0.2 1.9 1 2.8 1.3c0.9 0.4 1.8 0.6 2.8 0.9c0.9 0.3 1.8 0.6 2.7 0.8c0.8 0.2 1.5 0.2 2.3 0.4c0.8 0.2 1.6 0.6 2.3 0.8c0.8 0.2 1.6 0.6 2.3 0.6c0.8-0 1.6-0.2 2.3-0.4c0.8-0.1 1.6-0.6 2.3-0.6c0.8-0 1.6 0 2.3 0.1c0.8 0.1 1.6 0.2 2.3 0.3c0.8 0.1 1.6 0.1 2.3 0.2c0.8 0.1 1.6 0.5 2.3 0.7c0.9 0.2 1.8 0.7 2.6 0.7c0.9-0 1.7-1 2.6-1c0.9-0 1.7-0 2.6-0c0.7-0.1 1.4-1.7 2.2-2.4c0.7-0.7 1.4-1.4 2.1-2c1.2-0.8 2.3-2.2 3.5-2.2c1.1-0 2.3 2.3 3.4 4c1.2 1.6 2.3 6.9 3.5 6.9c0.8-0 1.7-0 2.6-0c1.1-0 2.3-0.8 3.4-1.2"/></defs><use href="#c2dm" class="cu1"/><use href="#c2dm" class="cu2"/>
<g filter="url(#bt)">
<g class="ax" font-size="13.7" text-anchor="end">
<text x="923.4" y="164.3">0</text>
<text x="923.4" y="209.2">-10</text>
<text x="923.4" y="254.1">-20</text>
<text x="923.4" y="299.1">-30</text>
<text x="923.4" y="344">-40</text>
<text x="923.4" y="388.9">-50</text>
<text x="923.4" y="433.8">-60</text>
<text x="923.4" y="478.7">-70</text>
<text x="923.4" y="523.7">-80</text>
<text x="923.4" y="568.6">-90</text>
<text x="923.4" y="613.5">-100</text>
</g>
<g class="ax" font-size="12.0" text-anchor="middle">
<text x="916.3" y="625.3" text-anchor="start">0.01</text>
<text x="1117.4" y="625.3">0.1</text>
<text x="1312" y="625.3">1.0</text>
<text x="1327.6" y="625.3" text-anchor="start" letter-spacing="0.7">MHz</text>
<text x="1505.6" y="625.3">10</text>
<text x="1599.9" y="625.3" text-anchor="end">30</text>
</g>
<g class="cv" font-size="17.3">
<text x="1131.5" y="386.7">CM</text>
<text x="1246.5" y="278.2">DM</text>
</g>
</g>
<text class="nm" x="1248.6" y="683.8" text-anchor="middle">3A</text>
</g>
<g id="chart3">
<path class="gm1" d="M1792.7 162.1V608.2M1826.5 162.1V608.2M1850.5 162.1V608.2M1869.1 162.1V608.2M1884.3 162.1V608.2M1897.1 162.1V608.2M1908.3 162.1V608.2M1918.1 162.1V608.2M1984.7 162.1V608.2M2018.5 162.1V608.2M2042.5 162.1V608.2M2061.1 162.1V608.2M2076.3 162.1V608.2M2089.2 162.1V608.2M2100.3 162.1V608.2M2110.1 162.1V608.2M2176.7 162.1V608.2M2210.5 162.1V608.2M2234.5 162.1V608.2M2253.1 162.1V608.2M2268.3 162.1V608.2M2281.2 162.1V608.2M2292.3 162.1V608.2M2302.1 162.1V608.2M2368.7 162.1V608.2"/><path class="gm2" d="M1792.7 162.1V608.2M1826.5 162.1V608.2M1850.5 162.1V608.2M1869.1 162.1V608.2M1884.3 162.1V608.2M1897.1 162.1V608.2M1908.3 162.1V608.2M1918.1 162.1V608.2M1984.7 162.1V608.2M2018.5 162.1V608.2M2042.5 162.1V608.2M2061.1 162.1V608.2M2076.3 162.1V608.2M2089.2 162.1V608.2M2100.3 162.1V608.2M2110.1 162.1V608.2M2176.7 162.1V608.2M2210.5 162.1V608.2M2234.5 162.1V608.2M2253.1 162.1V608.2M2268.3 162.1V608.2M2281.2 162.1V608.2M2292.3 162.1V608.2M2302.1 162.1V608.2M2368.7 162.1V608.2"/>
<path class="gh1" d="M1735.8 206.7H2400.8M1735.8 251.3H2400.8M1735.8 295.9H2400.8M1735.8 340.5H2400.8M1735.8 385.1H2400.8M1735.8 429.8H2400.8M1735.8 474.4H2400.8M1735.8 519H2400.8M1735.8 563.6H2400.8"/><path class="gh2" d="M1735.8 206.7H2400.8M1735.8 251.3H2400.8M1735.8 295.9H2400.8M1735.8 340.5H2400.8M1735.8 385.1H2400.8M1735.8 429.8H2400.8M1735.8 474.4H2400.8M1735.8 519H2400.8M1735.8 563.6H2400.8"/>
<path class="gd1" d="M1926.9 162.1V608.2M2118.9 162.1V608.2M2310.9 162.1V608.2"/><path class="gd2" d="M1926.9 162.1V608.2M2118.9 162.1V608.2M2310.9 162.1V608.2"/>
<path class="fr1" d="M1735.8 162.1H2400.8"/><path class="fr2" d="M1735.8 162.1H2400.8"/>
<path class="fa1" d="M1735.8 161.1V608.2H2400.8V161.1"/><path class="fa2" d="M1735.8 161.1V608.2H2400.8V161.1"/>
<path d="M1736.3 163.9l4.5 -2.8l-4.5 0z" style="fill:#555;stroke:none;fill-opacity:.8"/>
<defs><path id="c3cm" d="M1736.5 194.6c10 0 20.1 0 30.2 0c2.8 0 5.6 1 8.3 2.1c2.8 1 5.6 4.2 8.4 6.7c3.4 3 6.9 6.9 10.4 10.4c3.5 3.5 6.9 7.1 10.4 10.4c3.5 3.3 7 6.6 10.4 9.4c3.5 2.7 7 5.3 10.5 7.3c3.4 1.9 6.9 3.3 10.4 4.8c3.5 1.5 6.9 3.1 10.4 4.1c2.8 0.9 5.6 1.9 8.3 2.1c4.2 0.4 8.4 0.6 12.5 0.6c2.8 0 5.6-0.2 8.4-0.6c2.8-0.3 5.5-1.9 8.3-3.7c2.1-1.4 4.2-4.7 6.3-7.3c1.7-2.2 3.4-5.6 5.2-7.3c1.4-1.4 2.8-3.1 4.1-3.1c1.4-0 2.8 0.1 4.2 0.4c1.4 0.2 2.8 2.4 4.2 4.8c1 1.7 2.1 6.1 3.1 9.3c2.1 6.6 4.2 14.3 6.3 20.9c1.4 4.4 2.7 8.2 4.1 12.5c2.3 6.8 4.5 14.8 6.7 20.8c2.6 7.2 5.3 13.4 7.9 18.8c3.5 7.1 7 12.5 10.4 18.8c3.5 6.2 7 12.7 10.5 18.7c4.1 7.2 8.3 14.1 12.5 20.9c3.4 5.6 6.9 11.1 10.4 16.6c3.5 5.6 6.9 11.9 10.4 16.7c3.5 4.8 7 8.5 10.4 12.5c2.8 3.2 5.6 6.2 8.4 9.4c2.1 2.4 4.1 4.2 6.2 7.3c2.1 3.1 4.2 9.2 6.3 12.5c2.1 3.3 4.1 4 6.2 8.3c0.5 1 1 3 1.4 4.4c0.5 1.5 0.9 3.3 1.4 4.2c0.5 0.8 0.9 1.6 1.4 1.8c0.4 0.2 0.8 0.2 1.3 0.4c0.4 0.2 0.8 0.6 1.2 1.1c0.4 0.6 0.8 1.8 1.3 2.8c0.4 0.9 0.8 2.8 1.2 2.8c0.4 0 0.8-0.8 1.3-0.8c0.4 0 0.9 1.6 1.4 1.6c0.5 0 1-0.7 1.5-0.7c0.4-0 0.9 1 1.4 1.6c0.5 0.5 1 1.6 1.5 2c0.3 0.2 0.7 0.2 1.1 0.5c0.4 0.3 0.8 1.8 1.2 1.8c0.3-0 0.7-0.3 1.1-0.6c0.4-0.3 0.9-1.1 1.3-1.7c0.4-0.6 0.9-1.8 1.3-1.8c0.4 0 0.9 2.8 1.3 4.4c0.4 1.6 0.9 5.1 1.3 5.1c0.4 0 0.8-2.8 1.1-3.9c0.4-1.2 0.8-2.1 1.2-3.3c0.4-1.2 0.8-4 1.1-4c0.4 0 0.8 1.5 1.2 2.6c0.4 1.1 0.8 3.1 1.1 4.3c0.4 1.3 0.8 3.5 1.2 3.5c0.4-0 0.8-1.7 1.1-2c0.4-0.3 0.8-0.3 1.2-0.7c0.4-0.4 0.8-4.2 1.1-4.2c0.4-0 0.8 0.9 1.2 1.7c0.4 0.7 0.8 2.6 1.1 2.9c0.4 0.3 0.8 0.3 1.2 0.5c0.4 0.3 0.8 0.6 1.1 1.2c0.4 0.6 0.8 3.8 1.2 4.5c0.4 0.6 0.8 1.2 1.2 1.2c0.3 0 0.7-1.6 1.1-2.6c0.4-1 0.8-2.8 1.2-3.7c0.3-1 0.7-1.7 1.1-2.3c0.4-0.7 0.9-1.1 1.3-1.7c0.4-0.6 0.9-0.8 1.3-1.7c0.6-1.3 1.1-8.2 1.7-10.4c0.9-3.3 1.7-5.6 2.6-6.9c1.2-1.7 2.3-3.5 3.5-3.5c1.7 0 3.4 1.5 5.1 2.1c1.2 0.4 2.3 0.7 3.5 1c1.7 0.6 3.4 0.9 5.2 2.1c1.1 0.8 2.3 4.7 3.4 8.6c0.4 1.4 0.8 4.1 1.2 5.5c0.4 1.4 0.7 2.2 1.1 3.5c0.4 1.4 0.8 2.7 1.2 4.9c0.4 2.4 0.8 10.9 1.3 10.9c0.4-0 0.8-0.6 1.3-0.6c0.4 0 0.8 3.8 1.3 5.2c0.4 1.4 0.8 3.5 1.3 3.5c0.5-0 1.1-10.4 1.7-10.4c0.4-0 0.8 2.6 1.3 3.8c0.4 1.1 0.8 3.1 1.3 3.1c0.4-0 0.8-2.7 1.3-4.4c0.4-1.7 0.8-5.2 1.3-6c0.5-0.9 1.1-1.7 1.7-1.7c0.6 0 1.1 10.9 1.7 12.1c0.4 0.8 0.8 0.9 1.2 1.4c0.4 0.6 0.7 1.2 1.1 2c0.4 0.8 0.8 2.4 1.2 3.5c0.4 1.2 0.8 2.7 1.3 3.5c0.4 0.7 0.8 0.7 1.3 1.7c0.4 1 0.9 10.3 1.3 10.3c0.4 0 0.7-5.9 1.1-8.5c0.3-2.5 0.7-6.1 1-7c0.4-1.1 0.9-1.1 1.3-2.1c0.4-1 0.9-4.8 1.3-4.8c0.4-0 0.9 3.7 1.3 5.7c0.4 2 0.9 6.4 1.3 6.4c0.4-0 0.9-0.4 1.3-0.4c0.4-0 0.9 5.6 1.3 5.6c0.4-0 0.8-5.5 1.3-6.6c0.4-1 0.8-2.1 1.3-2.1c0.4 0 0.8 2.2 1.3 3.8c0.4 1.6 0.8 6.6 1.3 6.6c0.4-0 0.8-15.5 1.2-15.5c0.3-0 0.7 2.3 1.1 4.4c0.4 2.1 0.7 10.9 1.1 11.1c0.4 0.2 0.9 0.2 1.3 0.3c0.4 0.1 0.9 0.6 1.3 0.6c0.4-0 0.9-3.7 1.3-5.3c0.4-1.5 0.9-4.2 1.3-4.2c0.4-0 0.9 4.6 1.3 5.8c0.4 1.3 0.9 2.8 1.3 2.8c0.6-0 1.1-7.4 1.7-10.4c0.4-2.2 0.9-4.5 1.3-5.7c0.4-1.3 0.9-1.8 1.3-2.9c0.4-1 0.8-2.6 1.2-3.3c0.3-0.7 0.7-0.8 1.1-1.5c0.4-0.7 0.8-3.8 1.2-3.8c0.3-0 0.7 1.2 1.1 1.2c0.4 0 0.8-2.9 1.2-2.9c0.3-0 0.7 0.8 1.1 1.7c0.4 0.7 0.7 4.2 1.1 4.2c0.3 0 0.7-1.8 1.1-1.8c0.3-0 0.7 4.8 1 4.8c0.4-0 0.8-0.2 1.1-0.3c0.5-0.2 0.9-3.1 1.3-4.4c0.4-1.3 0.9-3.4 1.3-3.4c0.4 0 0.9 0.8 1.3 1.5c0.4 0.6 0.9 2.8 1.3 2.8c0.4 0 0.8-2.6 1.2-2.6c0.3-0 0.7 1.3 1.1 1.3c0.4-0 0.8-0.4 1.2-0.4c0.3-0 0.7 6.9 1.1 6.9c0.4-0 0.8-2.2 1.2-2.2c0.3-0 0.7 2.8 1.1 3.9c0.4 1 0.7 2.6 1.1 2.6c0.3 0 0.7-0.1 1.1-0.3c0.3-0.3 0.7-2.9 1-2.9c0.4-0 0.8 0.3 1.1 0.6c0.4 0.4 0.7 2.2 1.1 2.8c0.4 0.6 0.7 1.3 1.1 1.3c0.3-0 0.7-2 1.1-2c0.3 0 0.7 1.4 1 1.4c0.5-0 0.9-5.6 1.3-7.8c0.5-2.3 0.9-6 1.3-6c0.4-0 0.8 1.3 1.2 1.3c0.4-0 0.7-1.4 1.1-1.9c0.4-0.5 0.8-1.2 1.2-1.2c0.4 0 0.8 6.7 1.1 7.1c0.4 0.3 0.8 0.2 1.2 0.6c0.4 0.3 0.8 2.7 1.1 2.7c0.5-0 0.9-0.6 1.3-0.6c0.5-0 0.9 3.2 1.3 3.2c0.4-0 0.8-2.7 1.2-4.4c0.4-1.7 0.7-5.1 1.1-6.2c0.4-1.2 0.8-2.4 1.2-2.4c0.4 0 0.8 0.3 1.3 0.3c0.4-0 0.8-3.7 1.3-3.7c0.4-0 0.8 1.9 1.3 3.3c0.4 1.4 0.8 5.1 1.3 5.3c0.4 0.2 0.9 0.3 1.4 0.3c0.5 0 1-0.5 1.4-0.5c0.5-0 1 0.2 1.5 0.2c0.6 0 1.1-1.5 1.7-1.9c0.6-0.4 1.2-0.7 1.7-0.9c0.6-0.2 1.2-0.3 1.8-0.6c0.5-0.3 1-1 1.5-1.1c0.5-0.2 1-0.2 1.5-0.3c0.5-0.1 1-0.1 1.5-0.2c0.5-0.1 1-0.6 1.5-1c0.5-0.4 1-0.8 1.4-1.4c0.5-0.6 1-2.1 1.5-3c0.5-1 0.9-2.5 1.4-2.5c0.6-0 1.2 3.1 1.7 4c0.6 0.9 1.2 2 1.8 2c0.5 0 1.1-0.4 1.7-0.8c0.6-0.3 1.1-1 1.7-1.4c0.6-0.5 1.2-0.9 1.7-1.2c0.5-0.3 1-0.4 1.5-0.7c0.5-0.3 0.9-0.8 1.4-1.1c0.5-0.4 1-1 1.5-1c0.4 0 0.9 0.9 1.4 0.9c0.5 0 1-0.4 1.4-0.5c0.5-0.1 1-0.2 1.5-0.2c0.5-0.1 0.9-0.1 1.4-0.2c0.5-0.1 1-0.2 1.5-0.4c0.4-0.3 0.9-1.9 1.4-1.9c0.5 0 1 0.1 1.4 0.1c0.5-0 1-0.8 1.5-0.8c0.5-0 0.9 0.4 1.4 0.6c0.5 0.2 1 0.5 1.4 0.5c0.5 0 1-1.2 1.5-1.3c0.5-0 0.9 0 1.4-0c0.5-0.1 1-1 1.5-1.2c0.4-0.3 0.9-0.6 1.4-0.6c0.5-0 1 0.9 1.4 0.9c0.6-0 1.2-0 1.8-0c0.5-0 1.1 0.7 1.7 1c0.6 0.2 1.1 0.7 1.7 0.7c0.6-0 1.2-1.4 1.7-2.3c0.6-0.8 1.2-1.9 1.8-2.9c0.6-1 1.1-3.1 1.7-3.1c0.6-0.1 1.2-0.1 1.7-0.1c0.6-0.1 1.2-1.3 1.8-2c0.4-0.5 0.9-1.4 1.3-1.7c0.5-0.2 1-0.3 1.4-0.5c0.5-0.2 0.9-0.5 1.4-0.7c0.5-0.3 0.9-0.8 1.4-1c0.4-0.2 0.9-0.4 1.4-0.4c0.5 0 1.1 1.2 1.7 1.8c0.6 0.6 1.1 1.5 1.7 1.8c0.6 0.3 1.2 0.7 1.7 0.7c0.6 0 1.2-1.2 1.8-1.9c0.5-0.7 1.1-2.4 1.7-2.4c0.5 0 1 0.6 1.4 1.2c0.5 0.5 1 2 1.5 2.6c0.5 0.6 0.9 1.4 1.4 1.4c0.4-0 0.9-1.8 1.3-2.8c0.4-1 0.9-2.1 1.3-3.3c1.2-3.1 2.3-7.5 3.5-10.3c1.4-3.5 2.8-5.5 4.3-8.6c1.4-3.2 2.8-7.8 4.3-10.4c1.1-2.1 2.3-5.2 3.4-5.2c1.8 0 3.5 1.4 5.2 1.4c1.7-0 3.5-2.3 5.2-3.1c2.3-1.1 4.6-1.7 6.9-2.6c2.3-0.9 4.6-1.5 6.9-2.9c1.7-1.1 3.5-4.9 5.2-5.7c1.7-0.9 3.4-1.8 5.2-1.8c1.7 0 3.4 0.5 5.1 0.9c1.8 0.4 3.5 2.6 5.2 2.6c1.2-0 2.3-0.8 3.5-1.7c1.1-1 2.3-5.4 3.4-7.8c1.8-3.7 3.5-7.2 5.2-10.4c1.2-2.1 2.3-4.9 3.5-6c0.5-0.6 1.1-1.2 1.7-1.2c1.7-0 3.4 1.7 5.2 2.1c2.3 0.4 4.6 0.4 6.9 0.8c1.7 0.4 3.4 2.1 5.2 2.3c1.7 0.2 3.4 0.2 5.1 0.3"/></defs><use href="#c3cm" class="cu1"/><use href="#c3cm" class="cu2"/>
<defs><path id="c3dm" d="M1736.5 236.7c2.8 0 5.5 0 8.3 0c2.4 0 4.9 1.7 7.3 1.7c2.1-0 4.2-0.3 6.3-0.6c2-0.4 4.1-1.7 6.2-1.7c4.2-0 8.3-0 12.5-0c2.1-0 4.2-2.1 6.3-3.6c3.4-2.3 6.9-6 10.4-9.3c3.5-3.3 6.9-7.2 10.4-10.5c3.5-3.3 7-6.4 10.4-9.3c3.5-3 7-6 10.5-8.4c3.4-2.4 6.9-4.5 10.4-6.2c3.5-1.8 6.9-3.7 10.4-4.6c2.8-0.8 5.6-1.5 8.3-1.7c2.1-0.1 4.2-0.2 6.3-0.2c2.8 0 5.5 0.7 8.3 1.3c3.5 0.6 7 1.8 10.4 3.1c4.2 1.5 8.4 4 12.6 5.8c5.5 2.5 11.1 4.5 16.6 7.1c6.4 3 12.8 7.2 19.2 10.4c4 2.1 8.1 4 12.1 5.9c4.9 2.2 9.7 4.5 14.6 6.2c4.8 1.8 9.7 3.6 14.6 4.6c3.4 0.7 6.9 1.7 10.4 1.7c4.2-0 8.3-0 12.5-0c2.8-0 5.6-1.1 8.3-2.1c2.8-1 5.6-3.1 8.4-5.2c2.1-1.6 4.1-4.4 6.2-6.3c1.4-1.2 2.8-3.5 4.2-3.5c1.7-0 3.5-0 5.2-0c1.4-0 2.8 2.4 4.2 4.6c1.4 2.1 2.8 6.5 4.1 10.4c1.8 4.8 3.5 11.3 5.3 16.7c2 6.4 4.1 13 6.2 18.7c2.8 7.6 5.6 13.9 8.3 20.9c2.8 6.9 5.6 14.2 8.4 20.8c2.8 6.6 5.5 12.4 8.3 18.8c2.1 4.7 4.2 9 6.3 14.6c1.4 3.6 2.7 9.8 4.1 12.5c2.1 3.9 4.2 5 6.3 8.3c2.8 4.4 5.5 11.5 8.3 16.7c2.8 5.2 5.6 10.1 8.4 14.6c2.7 4.4 5.5 8.7 8.3 12.5c2.8 3.8 5.6 7.8 8.3 10.4c2.8 2.6 5.6 4.9 8.4 6.2c1.7 0.9 3.4 1.2 5.1 2c0.9 0.5 1.7 1.4 2.6 1.8c0.8 0.5 1.7 0.7 2.5 1.1c0.9 0.4 1.8 1 2.6 1.3c0.9 0.4 1.8 0.8 2.6 0.8c0.9 0 1.8-0 2.6-0.1c0.9-0.1 1.7-1.4 2.6-1.4c0.9 0 1.7 0 2.6 0c0.8 0 1.5-0.5 2.3-0.8c0.8-0.4 1.5-1.3 2.3-1.7c0.8-0.4 1.5-0.8 2.3-0.9c0.9-0.1 1.7-0.1 2.6-0.2c0.9-0.1 1.7-0.8 2.6-1.1c0.8-0.2 1.7-0.3 2.6-0.5c0.8-0.1 1.7-0.3 2.6-0.5c0.9-0.1 1.9-0.2 2.8-0.4c1-0.2 2-0.8 2.9-0.9c1-0.2 1.9-0.2 2.9-0.4c0.9-0.2 1.7-0.7 2.6-1.1c0.8-0.4 1.7-0.9 2.6-1.1c0.8-0.2 1.7-0.2 2.6-0.5c0.8-0.2 1.7-1.5 2.6-1.6c0.9-0.1 1.9-0.1 2.8-0.2c1-0.1 1.9-1 2.9-1c1-0 1.9 0.3 2.9 0.3c0.9 0 1.8-0.2 2.7-0.4c1-0.1 1.9-0.3 2.8-0.5c0.9-0.2 1.9-0.6 2.8-0.6c0.9-0 1.8-0 2.7-0c1-0 1.9-1.1 2.8-1.1c0.8 0 1.6 0.1 2.4 0.1c0.8 0 1.6-1.2 2.4-1.2c0.8-0 1.6 0.8 2.4 0.8c0.9 0 1.7-0.9 2.5-1c0.8-0 1.6-0 2.4-0c0.8-0.1 1.6-0.3 2.4-0.4c0.8-0.1 1.6-0.2 2.4-0.2c0.8-0.1 1.6-0.1 2.4-0.1c0.8 0 1.6 0.2 2.4 0.2c0.9 0 1.7-0.3 2.5-0.4c0.9-0.2 1.8-0.6 2.7-0.6c0.9 0 1.8 0.4 2.7 0.4c0.9 0 1.8-0.2 2.7-0.2c0.9-0 1.8 0.1 2.7 0.1c0.9 0 1.8-0.1 2.7-0.1c0.9 0 1.8 0.4 2.7 0.4c0.9-0 1.9-0.2 2.8-0.2c0.9 0 1.8 0.4 2.7 0.4c0.9-0 1.9-0.6 2.8-0.6c0.9 0 1.8 0.6 2.7 0.6c1 0 1.9-0.6 2.8-0.6c0.9 0 1.8 0.8 2.8 0.9c0.9 0.1 1.8 0.1 2.7 0.1c1 0.1 1.9 0.5 2.8 0.5c0.9-0 1.8-0.2 2.8-0.2c0.9-0 1.8 1.2 2.7 1.2c0.9-0 1.9-0.7 2.8-0.7c0.8-0 1.7 0.6 2.6 0.7c0.8 0.1 1.7 0.1 2.6 0.2c0.8 0.1 1.7 0.8 2.6 1.1c0.8 0.2 1.7 0.6 2.5 0.6c0.9-0 1.8-0.2 2.6-0.2c0.9 0 1.8 0.7 2.6 0.7c0.9 0 1.7-0 2.6-0c0.9-0 1.7 0.2 2.6 0.3c0.9 0.2 1.7 0.8 2.6 0.8c0.9 0 1.7-0.2 2.6-0.2c0.8 0 1.7 1.2 2.6 1.6c0.8 0.5 1.7 0.9 2.6 1.3c0.9 0.4 1.9 0.9 2.8 1.3c1 0.5 2 0.9 2.9 1.2c1 0.3 1.9 0.6 2.9 0.9c0.8 0.3 1.5 0.9 2.3 1.1c0.8 0.3 1.5 0.5 2.3 0.7c0.8 0.2 1.5 0.5 2.3 0.8c0.8 0.4 1.5 1.1 2.3 1.5c0.8 0.4 1.5 0.8 2.3 1.1c0.8 0.4 1.5 0.5 2.3 0.9c0.8 0.3 1.5 1 2.3 1.6c0.8 0.5 1.5 1.2 2.3 1.6c0.8 0.5 1.5 0.7 2.3 1.1c1 0.5 1.9 1.7 2.9 2.3c0.9 0.6 1.9 0.9 2.9 1.5c0.9 0.6 1.9 1.5 2.8 2.2c0.9 0.7 1.8 1.3 2.6 1.9c0.9 0.7 1.8 1.4 2.6 1.9c0.9 0.5 1.7 0.8 2.6 1.3c0.9 0.5 1.7 1.3 2.6 1.8c0.8 0.6 1.5 0.9 2.3 1.5c0.8 0.7 1.5 2.1 2.3 3c0.8 0.9 1.5 1.3 2.3 2.5c1.2 1.6 2.3 5.4 3.5 8.6c1.1 3.1 2.3 6.7 3.4 10.3c0.9 2.8 1.7 7.6 2.6 8.7c0.8 0.9 1.5 1.7 2.2 1.7c1 0 2-4.2 3-6.9c0.7-2 1.4-4.6 2.1-6.9c0.8-2.3 1.5-4.6 2.2-6.9c0.7-2.4 1.4-5.1 2.2-7.1c0.7-2 1.4-3.7 2.1-5c1.2-2.1 2.3-5.2 3.5-5.2c0.8 0 1.7 1.7 2.6 3.5c0.8 1.7 1.7 7 2.5 10.3c0.9 3.3 1.8 6.4 2.6 9.5"/></defs><use href="#c3dm" class="cu1"/><use href="#c3dm" class="cu2"/>
<g filter="url(#bt)">
<g class="ax" font-size="13.5" text-anchor="end">
<text x="1736.2" y="166.9">0</text>
<text x="1736.2" y="211.5">-10</text>
<text x="1736.2" y="256.2">-20</text>
<text x="1736.2" y="300.8">-30</text>
<text x="1736.2" y="345.4">-40</text>
<text x="1736.2" y="390">-50</text>
<text x="1736.2" y="434.6">-60</text>
<text x="1736.2" y="479.2">-70</text>
<text x="1736.2" y="523.8">-80</text>
<text x="1736.2" y="568.4">-90</text>
<text x="1736.2" y="613">-100</text>
</g>
<g class="ax" font-size="11.9" text-anchor="middle">
<text x="1729.1" y="624.7" text-anchor="start">0.01</text>
<text x="1927.9" y="624.7">0.1</text>
<text x="2120.1" y="624.7">1.0</text>
<text x="2135.5" y="624.7" text-anchor="start" letter-spacing="0.7">MHz</text>
<text x="2311.4" y="624.7">10</text>
<text x="2403.8" y="624.7" text-anchor="end">30</text>
</g>
<g class="cv" font-size="17.1">
<text x="1946.3" y="415.3">CM</text>
<text x="2055" y="267.1">DM</text>
</g>
</g>
<text class="nm" x="2053" y="683.8" text-anchor="middle">6A</text>
</g>
<g id="chart4">
<path class="gm1" d="M166.6 721.3V1164.1M200.3 721.3V1164.1M224.2 721.3V1164.1M242.7 721.3V1164.1M257.9 721.3V1164.1M270.7 721.3V1164.1M281.8 721.3V1164.1M291.6 721.3V1164.1M358 721.3V1164.1M391.7 721.3V1164.1M415.6 721.3V1164.1M434.2 721.3V1164.1M449.3 721.3V1164.1M462.1 721.3V1164.1M473.2 721.3V1164.1M483 721.3V1164.1M549.4 721.3V1164.1M583.1 721.3V1164.1M607.1 721.3V1164.1M625.6 721.3V1164.1M640.8 721.3V1164.1M653.6 721.3V1164.1M664.7 721.3V1164.1M674.5 721.3V1164.1M740.9 721.3V1164.1"/><path class="gm2" d="M166.6 721.3V1164.1M200.3 721.3V1164.1M224.2 721.3V1164.1M242.7 721.3V1164.1M257.9 721.3V1164.1M270.7 721.3V1164.1M281.8 721.3V1164.1M291.6 721.3V1164.1M358 721.3V1164.1M391.7 721.3V1164.1M415.6 721.3V1164.1M434.2 721.3V1164.1M449.3 721.3V1164.1M462.1 721.3V1164.1M473.2 721.3V1164.1M483 721.3V1164.1M549.4 721.3V1164.1M583.1 721.3V1164.1M607.1 721.3V1164.1M625.6 721.3V1164.1M640.8 721.3V1164.1M653.6 721.3V1164.1M664.7 721.3V1164.1M674.5 721.3V1164.1M740.9 721.3V1164.1"/>
<path class="gh1" d="M109.6 765.6H773.3M109.6 809.9H773.3M109.6 854.1H773.3M109.6 898.4H773.3M109.6 942.7H773.3M109.6 987H773.3M109.6 1031.3H773.3M109.6 1075.5H773.3M109.6 1119.8H773.3"/><path class="gh2" d="M109.6 765.6H773.3M109.6 809.9H773.3M109.6 854.1H773.3M109.6 898.4H773.3M109.6 942.7H773.3M109.6 987H773.3M109.6 1031.3H773.3M109.6 1075.5H773.3M109.6 1119.8H773.3"/>
<path class="gd1" d="M300.4 721.3V1164.1M491.8 721.3V1164.1M683.2 721.3V1164.1"/><path class="gd2" d="M300.4 721.3V1164.1M491.8 721.3V1164.1M683.2 721.3V1164.1"/>
<path class="fr1" d="M109.6 721.3H773.3"/><path class="fr2" d="M109.6 721.3H773.3"/>
<path class="fa1" d="M109.6 720.3V1164.1H773.3V720.3"/><path class="fa2" d="M109.6 720.3V1164.1H773.3V720.3"/>
<path d="M110.1 723.1l4.5 -2.8l-4.5 0z" style="fill:#555;stroke:none;fill-opacity:.8"/>
<defs><path id="c4cm" d="M148.1 721.3c2.5 0.8 4.9 1.4 7.3 2.5c4.2 1.7 8.4 4.7 12.5 7.3c4.9 2.9 9.8 6.4 14.6 9.3c4.9 3 9.8 5.6 14.6 8.4c4.9 2.7 9.8 5.6 14.6 8.3c4.9 2.7 9.7 5.3 14.6 7.9c6.3 3.4 12.5 7.1 18.8 9.8c5.5 2.4 11.1 4.3 16.6 6.3c3.5 1.2 7 2.3 10.5 3.5c3.4 1.2 6.9 3.5 10.4 3.8c3.5 0.2 6.9 0.4 10.4 0.4c3.5-0 7-0.3 10.4-0.4c5.2-0.2 10.4-0.7 15.7-0.7c1.7 0 3.4 0.9 5.2 1.7c2.1 1 4.1 3 6.2 5.2c2.1 2.3 4.2 6 6.3 9.4c2.1 3.4 4.1 7.8 6.2 11.5c2.5 4.3 4.9 8.5 7.3 12.5c2.5 4 4.9 7.4 7.3 11.4c2.8 4.6 5.6 10.5 8.4 14.6c3.4 5.2 6.9 9.2 10.4 13.6c3.5 4.3 6.9 8.3 10.4 12.5c3.5 4.1 6.9 8.7 10.4 12.5c3.5 3.8 7 6.9 10.4 10.4c2.8 2.8 5.6 6 8.4 8.3c2.8 2.4 5.5 4.1 8.3 6.3c3.5 2.7 7 6 10.4 8.3c1.8 1.2 3.5 2.1 5.3 3.2c2.3 1.4 4.6 4.3 6.9 4.3c1.7-0 3.5-1.2 5.2-1.2c1.7-0 3.4 1.3 5.2 2c2.3 1.1 4.6 2.1 6.9 3.5c2.3 1.4 4.6 3.8 6.9 5.2c2.9 1.7 5.7 3.1 8.6 4.3c3.9 1.7 7.8 2.9 11.7 4.3c3 1.1 6 2.3 9 3.1c1 0.3 1.9 0.3 2.9 0.7c1 0.3 1.9 2.9 2.9 3c0.9 0.1 1.9 0 2.9 0.1c0.9 0.1 1.9 2 2.8 2c1 0 2-0.2 2.9-0.2c1 0 1.9 1.1 2.9 1.3c0.9 0.2 1.7 0.3 2.6 0.3c0.8 0 1.7-1 2.6-1c0.8 0 1.7 1.6 2.6 1.6c0.8 0 1.7-0.5 2.6-0.5c0.8-0 1.7 0.5 2.5 0.7c0.9 0.3 1.8 0.5 2.6 0.8c0.9 0.4 1.8 1.5 2.6 1.5c0.9 0.1 1.7 0 2.6 0.1c0.9-0 1.7 0.2 2.6 0.5c0.9 0.2 1.7 1.6 2.6 1.8c0.9 0.1 1.7 0.1 2.6 0.2c0.8 0.1 1.7 1.3 2.6 1.6c0.8 0.3 1.7 0.3 2.6 0.5c0.8 0.3 1.7 1.5 2.5 1.5c0.9-0 1.8-1 2.6-1c0.9-0 1.8 1.7 2.6 1.8c0.9 0.1 1.8 0 2.6 0.1c0.9 0.1 1.7 0.6 2.6 1.1c0.8 0.4 1.5 1.6 2.3 2.1c0.8 0.5 1.5 0.7 2.3 1.1c0.8 0.4 1.5 0.8 2.3 1.1c0.8 0.3 1.6 0.4 2.4 0.7c0.8 0.4 1.6 1.3 2.4 1.7c0.9 0.5 1.7 0.8 2.5 1.1c0.8 0.3 1.6 0.4 2.4 0.7c0.8 0.3 1.6 0.8 2.4 1c0.8 0.2 1.6 0.2 2.4 0.5c0.8 0.2 1.6 1.3 2.4 1.8c0.8 0.6 1.6 1.4 2.4 1.4c0.9 0 1.7 0 2.5 0c0.8 0 1.6 0.9 2.4 1.5c0.8 0.6 1.7 1.7 2.6 2.1c0.8 0.4 1.7 0.4 2.6 0.7c0.8 0.4 1.7 1.2 2.6 1.6c0.8 0.3 1.7 0.7 2.5 0.7c0.9 0 1.8-0.1 2.6-0.1c0.9 0 1.8 2.4 2.6 2.7c0.9 0.4 1.7 0.5 2.6 0.6c0.9 0.1 1.7 0.1 2.6 0.3c0.9 0.1 1.7 1.9 2.6 2c0.9 0.1 1.7 0.1 2.6 0.2c0.8 0.1 1.7 1.4 2.6 1.9c0.8 0.4 1.7 0.7 2.6 1.1c0.9 0.3 1.9 0.6 2.8 1c1 0.3 2 1 2.9 1.2c1 0.2 1.9 0.1 2.9 0.4c0.9 0.2 1.7 2.4 2.6 2.4c0.8-0 1.7-0.3 2.6-0.7c0.8-0.4 1.7-3.5 2.6-3.5c0.5 0 1.1 3.5 1.7 3.5c0.7-0 1.4-1.2 2.1-1.2c0.8 0 1.5 0.3 2.2 0.3c0.8 0 1.5-0.1 2.3-0.3c0.8-0.1 1.5-1.3 2.3-1.6c0.8-0.3 1.5-0.4 2.3-0.7c1-0.3 1.9-1 2.9-1.4c0.9-0.3 1.9-0.5 2.9-0.9c0.9-0.4 1.9-1.4 2.8-2c1-0.5 2-0.9 2.9-1.4c1-0.4 1.9-0.9 2.9-1.2c1-0.3 1.9-0.4 2.9-0.8c0.8-0.4 1.7-1.3 2.6-2c0.8-0.7 1.7-1.4 2.6-2.4c0.7-0.8 1.5-2 2.3-3c0.8-1 1.5-2.1 2.3-3c1-1.1 1.9-2 2.9-3c0.9-1 1.9-2.4 2.8-3c0.9-0.6 1.7-0.8 2.6-1.2c0.9-0.5 1.7-1.2 2.6-1.8c0.9-0.5 1.7-0.9 2.6-1.4c0.8-0.5 1.7-1.1 2.6-1.7c0.8-0.5 1.6-1.2 2.4-1.7c0.8-0.5 1.6-0.8 2.4-1.3c0.8-0.5 1.6-1 2.4-1.6c0.8-0.7 1.6-1.9 2.4-2.5c0.8-0.6 1.7-0.9 2.5-1.5c0.8-0.6 1.7-1.6 2.5-2.2c0.9-0.7 1.8-1.5 2.6-2c0.9-0.5 1.8-0.8 2.6-1.4c0.9-0.5 1.8-1.9 2.6-2.2c0.8-0.3 1.6-0.2 2.4-0.5c0.8-0.3 1.6-1.1 2.5-1.6c0.8-0.4 1.6-0.8 2.4-1.2c0.8-0.3 1.6-0.7 2.4-1c0.8-0.3 1.6-0.5 2.4-0.9c0.8-0.3 1.5-1.1 2.3-1.6c0.8-0.5 1.5-1 2.3-1.4c0.8-0.4 1.5-0.7 2.3-1.3c0.8-0.5 1.5-1.8 2.3-2.4c0.8-0.6 1.5-0.9 2.3-1.5c0.8-0.5 1.5-1.5 2.3-2.1c0.8-0.6 1.5-1 2.3-1.5c0.8-0.6 1.6-1.2 2.3-1.8c0.8-0.6 1.6-1.4 2.3-1.9c1-0.7 1.9-1.7 2.9-1.7c1 0 1.9 0.2 2.9 0.2c0.9 0 1.9-1.6 2.9-2c0.8-0.2 1.7-0.2 2.5-0.5c0.9-0.3 1.8-1.4 2.6-1.7c0.9-0.3 1.8-0.3 2.6-0.6c0.9-0.3 1.7-1 2.6-1.5"/></defs><use href="#c4cm" class="cu1"/><use href="#c4cm" class="cu2"/>
<defs><path id="c4dm" d="M109.6 786.3c6.2-0 12.5-0 18.7-0c1.4-0 2.8-1.4 4.2-1.5c2.4-0.1 4.9-0.2 7.3-0.2c1.4 0 2.8 0.7 4.2 1.3c1 0.4 2.1 1.8 3.1 1.8c1.4 0 2.8-0.7 4.2-1.4c2.1-1.1 4.1-4.3 6.2-6.3c2.8-2.6 5.6-4.8 8.4-7.3c2.7-2.4 5.5-4.7 8.3-7.3c2.8-2.5 5.6-6 8.3-8.3c2.8-2.3 5.6-4.2 8.4-5.8c2.1-1.2 4.1-2.5 6.2-3.2c2.1-0.6 4.2-1.4 6.3-1.4c2.8-0 5.5 0.9 8.3 1.7c4.2 1.1 8.4 3.6 12.5 5.6c4.9 2.3 9.8 4.8 14.6 7.7c4.9 2.9 9.7 6.7 14.6 10c4.9 3.3 9.7 7.3 14.6 10c4.9 2.7 9.7 4.2 14.6 6.7c6.2 3.1 12.5 6.9 18.7 10.4c4.9 2.7 9.8 6.2 14.6 8.3c4.9 2.2 9.8 3.6 14.6 5.2c4.2 1.5 8.4 3.2 12.5 4.2c3.5 0.9 7 1.6 10.5 2.1c3.1 0.4 6.2 1 9.3 1c3.2 0 6.3-0.7 9.4-1.4c2.8-0.7 5.6-2.1 8.3-3.8c2.5-1.4 4.9-3.5 7.3-6.2c1.8-2 3.5-5.9 5.3-8.4c1.3-1.9 2.7-4.6 4.1-5.2c1.3-0.5 2.5-1 3.8-1c1.2-0 2.3 0.9 3.5 2.1c1.1 1 2.1 4.4 3.1 7.3c1.4 3.8 2.8 9.8 4.2 14.6c2.1 7.1 4.2 14.2 6.3 20.8c2 6.6 4.1 13 6.2 18.8c2.8 7.6 5.6 13.8 8.4 20.8c2.7 6.9 5.5 13.8 8.3 20.8c2.4 6.2 4.9 10 7.3 18.8c0.7 2.5 1.4 9.1 2.1 10.4c1.1 2.1 2.3 2.6 3.4 3.6c1.7 1.7 3.5 2.4 5.2 4.4c1.7 1.9 3.4 6.6 5.2 8.6c2.3 2.7 4.6 4.8 6.9 6c2.3 1.2 4.6 1.5 6.9 2.6c1.1 0.6 2.3 2.1 3.4 2.1c1.8 0 3.5 0 5.2 0c1.6 0 3.2-0.4 4.8-0.7c2.5-0.4 4.9-0.6 7.3-1.4c0.9-0.2 1.7-1.3 2.6-1.6c0.9-0.3 1.7-0.4 2.6-0.7c0.8-0.3 1.7-0.6 2.6-0.9c0.8-0.3 1.7-0.7 2.6-1.1c0.9-0.4 1.8-1.4 2.7-1.5c0.9-0.2 1.9-0.4 2.8-0.4c0.9-0 1.8 0.2 2.7 0.2c1 0 1.9-2.1 2.8-2.3c0.9-0.2 1.9-0.1 2.8-0.3c0.9-0.2 1.9-1.5 2.8-2.1c1-0.6 2-1 2.9-1.6c1-0.5 1.9-1.2 2.9-1.8c0.8-0.6 1.6-1.6 2.4-1.6c0.8-0.1 1.6-0 2.4-0.1c0.8 0 1.6-0.2 2.5-0.4c0.8-0.2 1.6-0.9 2.4-1.2c0.8-0.3 1.6-0.4 2.4-0.7c0.9-0.3 1.8-1.1 2.8-1.3c0.9-0.2 1.8-0.2 2.7-0.4c0.9-0.2 1.9-1 2.8-1.2c0.9-0.2 1.8-0.3 2.7-0.5c1-0.2 1.9-0.5 2.8-0.9c0.9-0.4 1.7-0.9 2.6-1.4c0.9-0.5 1.7-0.9 2.6-1.4c0.8-0.5 1.7-1.3 2.6-1.7c0.8-0.4 1.7-1 2.6-1c0.8-0.1 1.7-0.1 2.5-0.2c0.9-0.1 1.8-0.8 2.6-1.1c0.9-0.2 1.8-0.3 2.6-0.5c0.9-0.2 1.8-0.5 2.6-0.8c0.9-0.3 1.7-0.6 2.6-0.8c0.9-0.3 1.7-0.5 2.6-0.6c0.8-0.1 1.7-0.2 2.5-0.3c0.8-0.1 1.7-0.4 2.5-0.6c0.8-0.2 1.6-0.3 2.5-0.4c0.8-0.2 1.6-0.3 2.5-0.5c0.8-0.2 1.6-0.6 2.5-0.7c0.8-0.2 1.6-0.2 2.5-0.3c0.8-0.1 1.6-0.3 2.5-0.4c0.8-0.1 1.6-0.2 2.4-0.3c0.9-0.1 1.7-0.6 2.5-0.8c0.9-0.2 1.9-0.5 2.8-0.5c0.9-0 1.8 0.4 2.7 0.4c0.9-0 1.8-1.5 2.7-1.5c0.9-0 1.8 0.2 2.7 0.2c0.9 0.1 1.8 0.2 2.7 0.2c0.9-0 1.8-0.5 2.7-0.5c0.9-0 1.8-0 2.7-0.1c1 0 1.9 0 2.8-0.1c0.9-0 1.8-1.1 2.8-1.2c0.9 0 1.8 0 2.7 0c0.9-0 1.9-0.3 2.8-0.3c0.9-0 1.8 0.3 2.7 0.3c0.9-0 1.7-0 2.5-0c0.8-0 1.7 0.5 2.5 0.5c0.8-0 1.6-1 2.4-1c0.9 0 1.7 0.3 2.5 0.3c0.8-0 1.7-0.2 2.5-0.2c0.8-0 1.6 0.6 2.4 0.6c0.9 0 1.7-0.2 2.5-0.2c0.8-0 1.7 0.2 2.5 0.2c0.8 0.1 1.6 0.1 2.4 0.1c0.9-0 1.7-0.5 2.5-0.5c0.8 0 1.7 0.2 2.5 0.2c0.8 0 1.6-0 2.4-0c0.9-0 1.7 0 2.5 0c0.8 0.1 1.7 0.3 2.5 0.3c0.8 0.1 1.6 0.1 2.4 0.1c0.9 0.1 1.7 0.6 2.5 0.6c0.8-0 1.6-0.5 2.5-0.5c0.8-0 1.6 0.6 2.4 0.8c0.9 0.3 1.8 0.8 2.7 0.8c0.9 0 1.8-0.1 2.7-0.1c0.9-0 1.8 0.9 2.6 0.9c0.9 0.1 1.8 0.1 2.7 0.1c0.9-0 1.8-0.1 2.7-0.1c0.9-0 1.8 0.1 2.7 0.2c0.8 0.1 1.6 0.4 2.4 0.6c0.9 0.3 1.7 0.7 2.5 0.7c0.8 0 1.7-0.1 2.5-0.1c0.8-0 1.6 1.1 2.4 1.1c0.9 0.1 1.7 0.1 2.5 0.2c0.8 0 1.6 0.4 2.5 0.5c0.8 0.2 1.6 0.3 2.4 0.4c0.9 0.1 1.7 0.2 2.5 0.3c0.8 0.2 1.6 0.6 2.5 0.7c0.8 0.1 1.6 0.1 2.4 0.2c0.9 0.1 1.7 0.3 2.5 0.5c0.8 0.2 1.6 0.7 2.5 0.9c0.8 0.3 1.6 0.6 2.4 0.7c0.9 0.1 1.7 0.1 2.5 0.2c0.9 0 1.7 0.2 2.6 0.2c0.9-0 1.7-0.6 2.6-0.6c0.8 0 1.7 0.5 2.6 0.5c0.8-0 1.7-0.1 2.6-0.1c0.8 0 1.7 0.2 2.6 0.2c0.8 0.1 1.7 0.1 2.5 0.1c0.9 0.1 1.8 1.1 2.6 2.3c0.9 1.1 1.8 4.6 2.6 7.7c0.9 3.2 1.7 8.8 2.6 12.1c0.9 3.4 1.7 7.1 2.6 8.7c1.2 2.1 2.3 4 3.5 4.3c0.8 0.2 1.7 0.2 2.5 0.3c0.9 0.2 1.8 0.6 2.6 0.9c0.9 0.3 1.8 0.6 2.6 0.9c0.9 0.4 1.7 0.9 2.6 1.3"/></defs><use href="#c4dm" class="cu1"/><use href="#c4dm" class="cu2"/>
<g filter="url(#bt)">
<g class="ax" font-size="13.5" text-anchor="end">
<text x="110" y="726.1">0</text>
<text x="110" y="770.4">-10</text>
<text x="110" y="814.7">-20</text>
<text x="110" y="859">-30</text>
<text x="110" y="903.2">-40</text>
<text x="110" y="947.5">-50</text>
<text x="110" y="991.8">-60</text>
<text x="110" y="1036.1">-70</text>
<text x="110" y="1080.4">-80</text>
<text x="110" y="1124.6">-90</text>
<text x="110" y="1168.9">-100</text>
</g>
<g class="ax" font-size="11.9" text-anchor="middle">
<text x="103" y="1180.6" text-anchor="start">0.01</text>
<text x="301.4" y="1180.6">0.1</text>
<text x="493" y="1180.6">1.0</text>
<text x="508.4" y="1180.6" text-anchor="start" letter-spacing="0.7">MHz</text>
<text x="683.7" y="1180.6">10</text>
<text x="776.3" y="1180.6" text-anchor="end">30</text>
</g>
<g class="cv" font-size="17.1">
<text x="352" y="888.7">CM</text>
<text x="427.7" y="819">DM</text>
</g>
</g>
<text class="nm" x="431.5" y="1242.8" text-anchor="middle">10A</text>
</g>
<g id="chart5">
<path class="gm1" d="M987.9 723.2V1160.8M1021.2 723.2V1160.8M1044.9 723.2V1160.8M1063.2 723.2V1160.8M1078.2 723.2V1160.8M1090.8 723.2V1160.8M1101.8 723.2V1160.8M1111.5 723.2V1160.8M1177.1 723.2V1160.8M1210.4 723.2V1160.8M1234 723.2V1160.8M1252.4 723.2V1160.8M1267.4 723.2V1160.8M1280 723.2V1160.8M1291 723.2V1160.8M1300.7 723.2V1160.8M1366.3 723.2V1160.8M1399.6 723.2V1160.8M1423.2 723.2V1160.8M1441.6 723.2V1160.8M1456.5 723.2V1160.8M1469.2 723.2V1160.8M1480.2 723.2V1160.8M1489.8 723.2V1160.8M1555.4 723.2V1160.8"/><path class="gm2" d="M987.9 723.2V1160.8M1021.2 723.2V1160.8M1044.9 723.2V1160.8M1063.2 723.2V1160.8M1078.2 723.2V1160.8M1090.8 723.2V1160.8M1101.8 723.2V1160.8M1111.5 723.2V1160.8M1177.1 723.2V1160.8M1210.4 723.2V1160.8M1234 723.2V1160.8M1252.4 723.2V1160.8M1267.4 723.2V1160.8M1280 723.2V1160.8M1291 723.2V1160.8M1300.7 723.2V1160.8M1366.3 723.2V1160.8M1399.6 723.2V1160.8M1423.2 723.2V1160.8M1441.6 723.2V1160.8M1456.5 723.2V1160.8M1469.2 723.2V1160.8M1480.2 723.2V1160.8M1489.8 723.2V1160.8M1555.4 723.2V1160.8"/>
<path class="gh1" d="M931.8 767H1587.5M931.8 810.7H1587.5M931.8 854.5H1587.5M931.8 898.2H1587.5M931.8 942H1587.5M931.8 985.8H1587.5M931.8 1029.5H1587.5M931.8 1073.3H1587.5M931.8 1117H1587.5"/><path class="gh2" d="M931.8 767H1587.5M931.8 810.7H1587.5M931.8 854.5H1587.5M931.8 898.2H1587.5M931.8 942H1587.5M931.8 985.8H1587.5M931.8 1029.5H1587.5M931.8 1073.3H1587.5M931.8 1117H1587.5"/>
<path class="gd1" d="M1120.1 723.2V1160.8M1309.3 723.2V1160.8M1498.5 723.2V1160.8"/><path class="gd2" d="M1120.1 723.2V1160.8M1309.3 723.2V1160.8M1498.5 723.2V1160.8"/>
<path class="fr1" d="M931.8 723.2H1587.5"/><path class="fr2" d="M931.8 723.2H1587.5"/>
<path class="fa1" d="M931.8 722.2V1160.8H1587.5V722.2"/><path class="fa2" d="M931.8 722.2V1160.8H1587.5V722.2"/>
<path d="M932.3 725l4.5 -2.8l-4.5 0z" style="fill:#555;stroke:none;fill-opacity:.8"/>
<defs><path id="c5cm" d="M932.1 724.4c13.1-0 26.1-0 39.2-0c2.8-0 5.5 1 8.3 1.9c2.8 0.8 5.6 2.4 8.3 3.7c4.9 2.3 9.8 4.9 14.6 7.3c5.6 2.8 11.2 5.7 16.7 8.3c4.2 2 8.4 3.9 12.5 5.7c4.2 1.7 8.4 3.2 12.5 4.8c4.2 1.6 8.4 3.3 12.5 4.8c4.2 1.4 8.4 3 12.5 4.1c3.5 1 7 2.1 10.5 2.5c4.1 0.6 8.3 1.1 12.5 1.1c3.4-0 6.9-0.2 10.4-0.4c3.5-0.3 6.9-1.8 10.4-2.3c2.1-0.4 4.2-0.9 6.3-0.9c2 0 4.1 0.9 6.2 1.9c2.1 1 4.2 5 6.3 7.9c2.7 4 5.5 8.2 8.3 13.6c2.1 4 4.2 10.1 6.3 14.6c1.7 3.7 3.4 7 5.2 10.4c2.4 4.7 4.8 9.3 7.3 13.5c2.7 4.9 5.5 9.1 8.3 13.6c3.5 5.6 6.9 11.6 10.4 16.7c4.2 6 8.4 11.4 12.5 16.6c5.6 7 11.1 13.8 16.7 19.8c4.9 5.3 9.7 9.9 14.6 14.6c4.9 4.7 9.7 9.4 14.6 13.6c4.8 4.1 9.7 7.6 14.6 11.4c3.4 2.8 6.9 5 10.4 8.4c1.4 1.3 2.8 3.9 4.2 4.7c1.4 0.9 2.9 1.8 4.3 1.8c1.4-0 2.9-2.6 4.3-2.6c1.7-0 3.5 1.5 5.2 2.6c2.3 1.4 4.6 3.4 6.9 6c1.7 1.9 3.5 6.1 5.2 7.8c2.9 2.8 5.7 4.2 8.6 6c3.2 2 6.3 3.5 9.5 5.2c3.2 1.7 6.3 4.1 9.5 5.2c0.9 0.2 1.7 0.4 2.6 0.6c0.9 0.3 1.7 0.6 2.6 1c0.8 0.4 1.7 1.1 2.6 1.6c0.8 0.4 1.7 0.6 2.6 1.1c0.7 0.4 1.5 1.1 2.3 1.8c0.7 0.6 1.5 1.3 2.3 2c0.7 0.7 1.5 2.2 2.3 2.2c0.9 0 1.9-0.4 2.8-0.4c1 0 2 0.3 2.9 0.5c1 0.1 1.9 0.2 2.9 0.4c1 0.3 1.9 0.9 2.9 1.4c0.9 0.4 1.9 0.9 2.9 1.5c0.9 0.5 1.9 1.2 2.8 1.8c0.8 0.5 1.6 1.3 2.4 1.4c0.9 0.1 1.7 0.1 2.5 0.2c0.8 0.1 1.6 2.4 2.4 2.4c0.8-0 1.6-1.4 2.4-1.4c0.8 0 1.6 2 2.4 2.6c1 0.7 1.9 1.3 2.9 1.7c1 0.3 1.9 0.4 2.9 0.8c0.9 0.4 1.9 1.5 2.8 1.8c0.9 0.3 1.8 0.5 2.6 0.6c0.9 0.2 1.8 0.3 2.6 0.6c0.9 0.2 1.8 0.5 2.6 0.9c0.9 0.4 1.7 0.8 2.6 1.4c1 0.6 1.9 1.7 2.9 2.4c0.9 0.8 1.9 1.6 2.9 2.1c0.9 0.6 1.9 1.1 2.8 1.5c1 0.4 2 0.9 2.9 0.9c1-0 1.9-0.3 2.9-0.3c1 0 1.9 0.1 2.9 0.3c0.8 0.1 1.7 1.2 2.6 2.1c0.8 0.9 1.7 3.4 2.6 3.9c0.9 0.5 1.9 0.5 2.8 0.9c1 0.5 1.9 2 2.9 2.2c1 0.2 1.9 0.4 2.9 0.4c1.1-0 2.3-3.5 3.4-3.5c1.2 0 2.3 3.2 3.5 4.3c1.1 1.1 2.3 2.6 3.4 2.6c0.9 0 1.8-0.8 2.6-1.1c0.9-0.2 1.8-0.6 2.6-0.6c0.9-0 1.7 0.2 2.6 0.2c0.9 0 1.7-1.1 2.6-1.1c0.7 0 1.4 0.4 2.2 0.6c0.7 0.1 1.4 0.3 2.1 0.3c0.9-0 1.7-1.4 2.6-1.7c0.9-0.4 1.7-0.4 2.6-0.8c0.9-0.4 1.7-2.1 2.6-2.7c0.9-0.7 1.9-0.9 2.9-1.5c0.9-0.6 1.9-1.5 2.8-2.1c1-0.6 2-1 2.9-1.6c1-0.5 1.9-1 2.9-1.6c1-0.7 1.9-1.8 2.9-2.3c0.9-0.6 1.9-0.7 2.9-1.3c0.9-0.5 1.9-1.3 2.8-2c1-0.7 1.9-1.2 2.9-2c1-0.7 1.9-2.1 2.9-2.9c0.9-0.7 1.9-1.5 2.9-1.8c0.9-0.4 1.9-0.4 2.8-0.8c1-0.4 2-1.1 2.9-1.7c1-0.6 1.9-1.5 2.9-2.1c1-0.5 1.9-0.7 2.9-1.3c0.9-0.6 1.9-1.9 2.8-2.6c0.8-0.6 1.6-1.1 2.4-1.6c0.7-0.5 1.5-1.2 2.3-1.6c0.7-0.5 1.5-0.6 2.3-1.1c0.7-0.5 1.5-1.8 2.3-2.4c0.7-0.5 1.5-0.8 2.3-1.4c0.7-0.5 1.5-1.7 2.3-2.3c0.9-0.7 1.9-0.9 2.8-1.5c1-0.5 2-1.4 2.9-1.8c1-0.4 1.9-0.6 2.9-1c0.9-0.4 1.7-1 2.6-1.5c0.8-0.5 1.7-1.3 2.6-1.7c0.8-0.4 1.7-0.5 2.6-0.9c0.8-0.5 1.7-1.3 2.6-1.9c0.8-0.7 1.6-2 2.4-2.1c0.8-0 1.6-0 2.4-0.1c0.8-0 1.6-2.4 2.4-2.9c0.8-0.5 1.6-0.7 2.4-1.1c0.8-0.4 1.6-1.1 2.4-1.6c0.9-0.5 1.7-0.9 2.5-1.2c0.8-0.4 1.6-0.6 2.5-1c0.8-0.5 1.6-1.9 2.4-1.9c0.9 0 1.7 0.2 2.5 0.2c0.8 0 1.6-1.6 2.5-2.2c0.8-0.5 1.6-1.1 2.4-1.3c0.9-0.2 1.7-0.2 2.5-0.4c0.9-0.1 1.7-0.3 2.6-0.6c0.9-0.4 1.7-1.7 2.6-2.4c0.8-0.8 1.7-1.5 2.6-2.2c0.8-0.6 1.7-1.3 2.6-1.7c0.8-0.4 1.6-0.6 2.4-1c0.8-0.3 1.6-0.7 2.4-1.2c0.8-0.6 1.6-1.5 2.4-2.1c0.8-0.6 1.6-1.1 2.4-1.5c0.8-0.4 1.6-0.7 2.4-1.1c1-0.5 1.9-1.5 2.9-1.9c0.9-0.5 1.8-0.8 2.8-1.1c0.9-0.3 1.8-0.4 2.8-0.8c0.9-0.3 1.8-0.9 2.8-1.4"/></defs><use href="#c5cm" class="cu1"/><use href="#c5cm" class="cu2"/>
<defs><path id="c5dm" d="M932.1 790c4.7 0 9.4 0 14.2 0c2 0 4.1-1 6.2-1.2c3.5-0.4 7-0.8 10.4-0.8c3.2-0 6.3-0 9.4-0c2.4-0 4.9-2.2 7.3-3.8c2.8-1.8 5.6-4.6 8.3-7.3c3.5-3.4 7-8 10.5-11.5c3.4-3.4 6.9-6.8 10.4-9.3c2.8-2.1 5.6-4.5 8.3-5.2c2.8-0.8 5.6-1.5 8.4-1.5c2.7-0 5.5 1.5 8.3 2.5c3.5 1.2 7 3.1 10.4 4.8c4.2 2 8.4 3.9 12.5 6.2c4.2 2.4 8.4 5.7 12.5 8.4c4.2 2.7 8.4 5.2 12.5 7.7c4.9 2.9 9.8 5.7 14.6 8.3c4.9 2.7 9.8 5.2 14.6 7.7c3.5 1.9 7 3.8 10.4 5.5c4.9 2.3 9.8 4.6 14.6 6.6c5.2 2.3 10.5 4.3 15.7 6.3c3.8 1.4 7.6 2.9 11.4 4.2c3.5 1.1 7 2.3 10.5 3.1c2.7 0.6 5.5 1.4 8.3 1.4c3.5 0 6.9 0 10.4 0c2.8 0 5.6-1.3 8.3-2.5c2.8-1.1 5.6-3.2 8.4-5.8c2.1-2 4.2-5.3 6.2-8.8c1.8-2.8 3.5-8.1 5.2-10.4c1.4-1.8 2.8-4.1 4.2-4.1c1.4-0 2.8 0.1 4.2 0.4c1 0.2 2.1 2.9 3.1 5.8c1.1 2.9 2.1 12.1 3.1 16.7c1.8 7.6 3.5 12.7 5.2 18.7c2.1 7.3 4.2 14.3 6.3 20.9c2.1 6.6 4.2 13.3 6.3 18.7c2.7 7.2 5.5 12.9 8.3 18.8c2.1 4.4 4.2 5 6.2 12.5c0.4 1.3 0.7 6.7 1.1 7.3c1.7 3 3.5 2.4 5.2 4.2c1.3 1.3 2.5 3.3 3.8 5.1c2.3 3.2 4.6 7.6 6.9 10.3c2.3 2.8 4.6 4.9 6.9 6.9c2.9 2.6 5.7 5.5 8.6 6.9c3.2 1.6 6.3 3.2 9.5 3.5c2.6 0.2 5.2 0.3 7.8 0.3c1.9 0 3.8-0.6 5.7-0.8c1-0.2 1.9-0.2 2.9-0.4c1-0.1 1.9-0.5 2.9-0.9c0.9-0.3 1.9-0.9 2.9-1.1c0.9-0.1 1.9-0.1 2.8-0.2c0.8-0.1 1.5-0.2 2.2-0.2c0.7-0 1.4 0.7 2.2 0.7c0.7-0 1.5-0.7 2.3-1.2c0.8-0.5 1.6-1.4 2.4-1.9c0.8-0.5 1.6-0.9 2.4-1.3c0.8-0.4 1.6-0.8 2.4-1.1c0.8-0.4 1.7-0.9 2.5-1.2c0.9-0.4 1.8-0.6 2.6-0.9c0.9-0.3 1.8-0.5 2.6-0.8c0.9-0.3 1.7-0.7 2.6-1.1c0.9-0.4 1.7-1 2.6-1.2c0.9-0.2 1.7-0.3 2.6-0.5c0.9-0.3 1.7-0.8 2.6-1c0.8-0.3 1.7-0.3 2.6-0.6c0.8-0.2 1.7-0.9 2.6-1.3c0.8-0.4 1.7-0.5 2.5-0.9c0.8-0.4 1.6-1.7 2.4-1.8c0.7-0.1 1.5-0.1 2.3-0.2c0.7-0.1 1.5-1.9 2.3-2.3c0.8-0.5 1.6-0.9 2.4-1.1c0.8-0.2 1.7-0.3 2.5-0.5c0.8-0.2 1.6-0.8 2.5-1c0.8-0.2 1.6-0.2 2.4-0.4c0.8-0.2 1.7-0.6 2.5-1c0.8-0.3 1.6-1 2.5-1.3c0.8-0.2 1.6-0.3 2.4-0.4c0.8-0.2 1.7-0.2 2.5-0.4c0.8-0.1 1.6-0.5 2.5-0.9c0.8-0.4 1.6-1.1 2.4-1.4c0.8-0.2 1.7-0.4 2.5-0.6c0.8-0.2 1.6-0.8 2.5-0.8c0.8 0 1.6 0 2.4 0c0.8 0 1.7-0.9 2.5-1.1c0.8-0.2 1.6-0.3 2.5-0.4c0.8-0.2 1.6-0.4 2.4-0.5c0.8-0.1 1.7-0.2 2.5-0.2c0.8-0.1 1.6-0.2 2.4-0.4c0.9-0.1 1.7-0.8 2.5-1c0.8-0.1 1.7-0.2 2.5-0.4c0.8-0.1 1.6-0.4 2.4-0.6c0.9-0.2 1.8-0.3 2.6-0.5c0.9-0.2 1.8-0.3 2.6-0.5c0.9-0.1 1.8-0.2 2.6-0.3c0.8-0.2 1.6-0.6 2.4-0.9c0.8-0.3 1.6-0.7 2.4-0.9c0.8-0.2 1.5-0.3 2.3-0.5c0.8-0.3 1.6-1 2.4-1c0.8-0 1.7 0.1 2.5 0.1c0.8-0 1.6-1.1 2.4-1.1c0.9 0 1.7 0.4 2.5 0.4c0.8 0 1.7-0.5 2.5-0.6c0.8-0.1 1.6-0.1 2.4-0.2c0.9-0.1 1.7-0.6 2.5-0.6c0.8-0 1.7 0.2 2.5 0.2c0.8 0 1.7-0.8 2.6-0.8c0.8-0 1.7 0.6 2.6 0.6c0.8 0 1.7-0.2 2.5-0.2c0.9-0.1 1.8-0.1 2.6-0.1c0.9-0 1.8 0 2.6 0c0.9 0 1.8 0 2.6 0c0.9 0 1.7-1 2.6-1.2c0.9-0.3 1.7-0.5 2.6-0.5c0.8-0 1.5 0.5 2.3 0.9c0.8 0.3 1.5 0.9 2.3 1.1c0.8 0.1 1.5 0.1 2.3 0.2c0.9 0.2 1.8 0.4 2.8 0.4c0.9 0 1.8-0.2 2.7-0.2c0.9-0.1 1.9-0.2 2.8-0.2c0.9 0 1.8 0 2.8 0c0.9 0 1.8 0 2.7 0c0.8 0 1.6-0.1 2.4-0.1c0.8-0.1 1.6-0.1 2.4-0.1c0.9-0.1 1.7-0.1 2.5-0.2c0.8 0 1.6-0.1 2.4-0.1c0.8 0 1.6 0.2 2.4 0.2c0.9-0 1.7-1.4 2.6-1.4c1.1 0 2.3 1.5 3.4 3c0.9 1 1.8 4.3 2.6 5.6c0.9 1.3 1.8 2.4 2.6 3c0.7 0.5 1.5 0.8 2.2 1.1c0.7 0.3 1.4 0.5 2.1 0.6c0.9 0.1 1.8 0.2 2.6 0.2c0.9-0 1.8-0.1 2.6-0.1c0.9-0.1 1.7-0.4 2.6-0.4c0.9 0 1.7 0.2 2.6 0.3c0.9 0.1 1.7 0.5 2.6 0.6c0.8 0.1 1.7 0 2.6 0.1c0.8 0.1 1.7 0.7 2.6 0.9c0.8 0.3 1.7 0.4 2.6 0.7c0.8 0.2 1.7 0.5 2.5 0.9c0.9 0.5 1.8 1.1 2.6 1.6c0.9 0.5 1.8 1 2.6 1.5c0.9 0.5 1.8 1 2.6 1.5c0.9 0.5 1.7 1.1 2.6 1.5c0.9 0.4 1.7 0.6 2.6 0.9c0.9 0.4 1.7 0.7 2.6 1.1c0.8 0.4 1.7 1.5 2.6 1.7c0.8 0.1 1.6 0.1 2.3 0.3c0.8 0.1 1.6 1.2 2.4 1.7c0.8 0.5 1.6 1.1 2.4 1.5c0.8 0.3 1.6 0.5 2.4 0.8"/></defs><use href="#c5dm" class="cu1"/><use href="#c5dm" class="cu2"/>
<g filter="url(#bt)">
<g class="ax" font-size="13.3" text-anchor="end">
<text x="932.2" y="728">0</text>
<text x="932.2" y="771.7">-10</text>
<text x="932.2" y="815.5">-20</text>
<text x="932.2" y="859.2">-30</text>
<text x="932.2" y="903">-40</text>
<text x="932.2" y="946.8">-50</text>
<text x="932.2" y="990.5">-60</text>
<text x="932.2" y="1034.3">-70</text>
<text x="932.2" y="1078">-80</text>
<text x="932.2" y="1121.8">-90</text>
<text x="932.2" y="1165.6">-100</text>
</g>
<g class="ax" font-size="11.7" text-anchor="middle">
<text x="925.2" y="1177.1" text-anchor="start">0.01</text>
<text x="1121.1" y="1177.1">0.1</text>
<text x="1310.5" y="1177.1">1.0</text>
<text x="1325.7" y="1177.1" text-anchor="start" letter-spacing="0.7">MHz</text>
<text x="1499" y="1177.1">10</text>
<text x="1590.5" y="1177.1" text-anchor="end">30</text>
</g>
<g class="cv" font-size="16.9">
<text x="1162.2" y="899.7">CM</text>
<text x="1248.3" y="811">DM</text>
</g>
</g>
<text class="nm" x="1247.7" y="1242.8" text-anchor="middle">20A</text>
</g>
<g id="chart6">
<path class="gm1" d="M1799.2 725.4V1159M1832.1 725.4V1159M1855.4 725.4V1159M1873.5 725.4V1159M1888.3 725.4V1159M1900.8 725.4V1159M1911.6 725.4V1159M1921.2 725.4V1159M1985.9 725.4V1159M2018.8 725.4V1159M2042.1 725.4V1159M2060.2 725.4V1159M2074.9 725.4V1159M2087.4 725.4V1159M2098.3 725.4V1159M2107.8 725.4V1159M2172.5 725.4V1159M2205.4 725.4V1159M2228.7 725.4V1159M2246.8 725.4V1159M2261.6 725.4V1159M2274.1 725.4V1159M2284.9 725.4V1159M2294.5 725.4V1159M2359.2 725.4V1159"/><path class="gm2" d="M1799.2 725.4V1159M1832.1 725.4V1159M1855.4 725.4V1159M1873.5 725.4V1159M1888.3 725.4V1159M1900.8 725.4V1159M1911.6 725.4V1159M1921.2 725.4V1159M1985.9 725.4V1159M2018.8 725.4V1159M2042.1 725.4V1159M2060.2 725.4V1159M2074.9 725.4V1159M2087.4 725.4V1159M2098.3 725.4V1159M2107.8 725.4V1159M2172.5 725.4V1159M2205.4 725.4V1159M2228.7 725.4V1159M2246.8 725.4V1159M2261.6 725.4V1159M2274.1 725.4V1159M2284.9 725.4V1159M2294.5 725.4V1159M2359.2 725.4V1159"/>
<path class="gh1" d="M1743.9 768.8H2390.2M1743.9 812.1H2390.2M1743.9 855.5H2390.2M1743.9 898.8H2390.2M1743.9 942.2H2390.2M1743.9 985.6H2390.2M1743.9 1028.9H2390.2M1743.9 1072.3H2390.2M1743.9 1115.6H2390.2"/><path class="gh2" d="M1743.9 768.8H2390.2M1743.9 812.1H2390.2M1743.9 855.5H2390.2M1743.9 898.8H2390.2M1743.9 942.2H2390.2M1743.9 985.6H2390.2M1743.9 1028.9H2390.2M1743.9 1072.3H2390.2M1743.9 1115.6H2390.2"/>
<path class="gd1" d="M1929.7 725.4V1159M2116.3 725.4V1159M2303 725.4V1159"/><path class="gd2" d="M1929.7 725.4V1159M2116.3 725.4V1159M2303 725.4V1159"/>
<path class="fr1" d="M1743.9 725.4H2390.2"/><path class="fr2" d="M1743.9 725.4H2390.2"/>
<path class="fa1" d="M1743.9 724.4V1159H2390.2V724.4"/><path class="fa2" d="M1743.9 724.4V1159H2390.2V724.4"/>
<path d="M1744.4 727.2l4.5 -2.8l-4.5 0z" style="fill:#555;stroke:none;fill-opacity:.8"/>
<defs><path id="c6cm" d="M1744.2 727.1c11.6-0 23.3-0 35-0c2.8-0 5.5 0.8 8.3 1.5c3.5 0.7 7 1.9 10.4 3.1c4.9 1.7 9.8 4.1 14.6 6.2c5.6 2.5 11.2 5.3 16.7 7.7c7 3.1 13.9 6.4 20.9 9c6.9 2.6 13.9 4.9 20.8 7.1c5.6 1.7 11.1 3.5 16.7 4.8c3.4 0.8 6.9 1.5 10.4 2.1c3.5 0.6 6.9 1.6 10.4 1.6c5.6 0 11.1 0 16.7 0c1.7 0 3.5 0.4 5.2 0.7c1.7 0.3 3.5 1 5.2 1.8c2.1 1.1 4.2 3.1 6.3 5.2c2 2.2 4.1 5.3 6.2 8.4c2.1 3.1 4.2 6.9 6.3 10.4c2.1 3.5 4.1 7 6.2 10.4c2.1 3.5 4.2 7 6.3 10.5c2.1 3.4 4.1 6.9 6.2 10.4c2.1 3.4 4.2 7.1 6.3 10.4c2.8 4.4 5.5 8.5 8.3 12.5c3.5 5 7 10.3 10.4 14.6c3.5 4.3 7 8 10.5 11.5c4.1 4.1 8.3 8 12.5 11.4c4.1 3.5 8.3 6.5 12.5 9.4c2.1 1.5 4.1 2.8 6.2 4.2c3.5 2.3 7 5.2 10.4 6.8c3.3 1.6 6.6 2.3 9.9 3.9c3.5 1.6 6.9 5.3 10.4 6c2.3 0.5 4.6 0.9 6.9 0.9c1.7-0 3.4-0.4 5.1-0.4c2.9 0 5.8 3.5 8.7 5.5c2.9 2.1 5.7 5.1 8.6 6.9c5.5 3.6 10.9 7.2 16.4 8.7c1.7 0.5 3.5 0.4 5.2 1.1c0.9 0.3 1.7 1.7 2.6 2.3c0.8 0.5 1.7 0.8 2.6 1.1c0.8 0.3 1.7 0.4 2.6 0.7c0.9 0.2 1.8 0.5 2.7 0.9c0.9 0.4 1.9 1.5 2.8 1.5c0.9 0 1.8-0 2.7-0c1-0 1.9 1.1 2.8 1.3c0.9 0.3 1.9 0.3 2.8 0.6c0.8 0.2 1.7 0.9 2.6 1.3c0.8 0.4 1.7 0.9 2.6 1c0.8 0.1 1.7 0.1 2.5 0.2c0.9 0.1 1.8 2.4 2.6 2.4c0.9-0 1.8-0.1 2.6-0.1c1 0 1.9 0.9 2.8 1.4c1 0.4 1.9 1 2.8 1.4c1 0.5 1.9 1 2.8 1.2c1 0.3 1.9 0.4 2.8 0.7c0.8 0.2 1.7 0.3 2.5 0.6c0.8 0.3 1.6 0.6 2.4 1.1c0.8 0.4 1.6 1.4 2.4 1.7c0.8 0.3 1.6 0.4 2.4 0.6c0.8 0.3 1.6 1.1 2.4 1.2c0.8 0 1.6-0 2.3 0c0.8 0.1 1.6 0.3 2.3 0.4c0.8 0.1 1.6 0.2 2.3 0.4c0.8 0.3 1.6 1.4 2.5 1.8c0.8 0.5 1.6 1 2.4 1.3c0.8 0.3 1.6 0.3 2.4 0.6c0.8 0.4 1.6 1.8 2.4 2.5c0.8 0.6 1.6 1.1 2.4 1.6c0.8 0.5 1.6 1 2.4 1.4c0.8 0.3 1.6 0.4 2.5 0.9c0.8 0.4 1.6 2 2.4 2c0.8 0 1.6-0.2 2.4-0.2c0.8 0 1.6 1.5 2.4 1.9c0.8 0.4 1.6 0.5 2.4 0.9c0.8 0.4 1.6 2 2.4 2.3c0.8 0.3 1.7 0.3 2.5 0.5c0.8 0.2 1.6 1.1 2.4 1.4c0.8 0.4 1.6 0.6 2.4 1c0.9 0.4 1.8 1.2 2.8 1.7c0.9 0.6 1.8 1.2 2.7 1.7c0.9 0.6 1.9 1.1 2.8 1.5c0.9 0.3 1.8 0.4 2.7 0.8c1 0.4 1.9 1.2 2.8 2c0.9 0.8 1.8 2.6 2.8 3c0.9 0.4 1.8 0.4 2.7 0.8c0.9 0.3 1.9 1.3 2.8 2.1c0.9 0.7 1.8 1.7 2.8 2.3c0.9 0.5 1.8 1 2.7 1.3c0.8 0.3 1.5 0.8 2.3 0.8c0.8 0 1.6-0.1 2.3-0.2c0.8 0 1.6-0 2.3-0c1-0 1.9 1.1 2.9 1.9c1 0.7 1.9 1.6 2.9 2.5c0.9 0.9 1.9 1.7 2.9 2.8c0.7 0.9 1.5 2.1 2.3 2.9c0.7 0.8 1.5 1.4 2.3 2.1c0.7 0.6 1.5 1.1 2.3 1.9c1.1 1.2 2.3 4.3 3.4 4.3c0.6 0 1.2-5.2 1.7-5.2c0.9 0 1.8 7.7 2.6 9.5c1 2.2 2 3.4 3 4.7c1.1 1.2 2.1 1.8 3.1 3.1c0.8 1.1 1.7 3.3 2.6 4.5c0.8 1.3 1.7 1.9 2.5 3.3c0.9 1.4 1.8 2.5 2.6 6c0.4 1.7 0.8 12.1 1.2 12.1c1.1 0 2.1-0.3 3.2-0.9c0.5-0.3 1.1-8.3 1.7-10.3c0.4-1.6 0.9-3.5 1.4-3.5c0.4 0 0.8 0.9 1.2 0.9c0.4-0 0.8-8.4 1.2-11.2c0.7-5.3 1.5-8.8 2.2-12.1c1.2-5.2 2.3-12 3.5-13c1-0.8 2-1.1 3-1.5c1-0.4 2-0.5 3-1c1.2-0.7 2.3-2.9 3.5-4.4c0.7-1 1.5-2.3 2.3-3.1c0.7-0.8 1.5-1.1 2.3-2c0.7-0.9 1.5-3.2 2.3-4.4c0.7-1.2 1.5-1.9 2.3-3c0.7-1.1 1.5-2.4 2.3-3.3c0.8-0.9 1.5-1.8 2.3-2.3c0.8-0.5 1.5-0.5 2.3-1c0.8-0.5 1.5-2.4 2.3-3.2c0.8-0.7 1.5-1.4 2.3-1.8c1-0.6 2-0.7 3-1.2c1-0.5 2-1.5 3-2.3c0.8-0.6 1.6-1.7 2.4-2.1c0.8-0.4 1.6-0.6 2.4-0.9c0.8-0.2 1.6-0.4 2.4-0.7c0.7-0.4 1.5-0.8 2.3-1.5c0.9-0.7 1.8-3.1 2.6-4.7c0.9-1.5 1.7-3.6 2.6-4.8c0.9-1.1 1.7-1.7 2.6-2.7c0.9-1 1.7-2.2 2.6-3.3c1.1-1.5 2.3-4.3 3.4-4.3c0.9-0 1.8 0.8 2.6 0.8c0.9 0 1.8 0 2.6 0c0.6 0 1.2-2.8 1.7-4.3c0.9-2.2 1.8-6.8 2.6-6.9c1-0.1 2.1-0.1 3.1-0.2c1-0.1 2-0.3 3-0.6c1.1-0.4 2.3-1.5 3.4-2.6c0.7-0.7 1.4-1.8 2.1-2.6"/></defs><use href="#c6cm" class="cu1"/><use href="#c6cm" class="cu2"/>
<defs><path id="c6dm" d="M1744.2 784.6c4.7-0.1 9.4-0.4 14.1-0.4c2.8 0 5.6 0 8.4 0c2.8 0 5.5 0.2 8.3 0.6c1.4 0.2 2.8 1.9 4.2 1.9c1.7 0 3.5-1.3 5.2-2.5c1.7-1.2 3.5-4.1 5.2-6.3c2.1-2.6 4.2-5.7 6.3-8.3c2-2.6 4.1-5.5 6.2-7.3c1.8-1.5 3.5-2.8 5.2-3.5c1.4-0.6 2.8-1.3 4.2-1.3c1.7 0 3.5 0.7 5.2 1.3c2.1 0.7 4.2 2 6.3 3.5c2.7 2 5.5 5.7 8.3 8.4c3.5 3.3 6.9 6.3 10.4 9.3c4.2 3.6 8.4 7.3 12.5 10.5c5.6 4.2 11.1 8 16.7 11.4c5.6 3.5 11.1 6.3 16.7 9.4c5.5 3.1 11.1 6.6 16.6 9.4c5.6 2.7 11.2 5.2 16.7 7.3c3.1 1.1 6.3 2 9.4 3.1c3.8 1.3 7.6 2.8 11.5 4.2c3.4 1.2 6.9 2.6 10.4 3.5c2.8 0.7 5.5 1.3 8.3 1.7c2.5 0.3 4.9 0.6 7.3 0.6c2.4 0 4.9-0.3 7.3-0.6c1.8-0.2 3.5-0.6 5.2-1.1c2.5-0.7 4.9-2.4 7.3-4.1c2.1-1.6 4.2-3.7 6.3-6.3c1.7-2.1 3.4-5.4 5.2-8.3c1.4-2.3 2.8-5.8 4.2-7.3c1-1.1 2-2.5 3.1-2.5c1-0 2.1 0.7 3.1 1.4c1 0.8 2.1 3.6 3.1 6.3c1.1 2.7 2.1 7.2 3.2 11.5c1 4.2 2 10 3.1 14.5c1.4 6.1 2.8 11.9 4.2 16.7c2 7.2 4.1 13.3 6.2 18.8c2.1 5.5 4.2 10.1 6.3 14.6c1.3 2.9 2.7 5.3 4.1 8.3c2.1 4.5 4.2 9.7 6.3 14.6c2.1 4.9 4.1 10.1 6.2 14.6c2.1 4.5 4.2 9 6.3 12.5c2.8 4.7 5.6 7.6 8.4 12c2 3.1 4 6.3 6 10.3c1.5 2.9 2.9 9.9 4.4 10.4c1.4 0.5 2.8 0.5 4.3 0.9c2 0.5 4 1.8 6 2.6c2 0.7 4.1 2 6.1 2c2 0 4-2.7 6-3.8c2.9-1.5 5.8-2.8 8.6-3.8c2.6-0.9 5.2-1.4 7.8-2.2c1.7-0.6 3.5-1.4 5.2-2c0.9-0.3 1.7-0.4 2.6-0.7c0.8-0.4 1.7-0.9 2.6-1.3c0.8-0.4 1.7-1 2.6-1.2c0.8-0.2 1.6-0.2 2.4-0.5c0.8-0.2 1.7-1.5 2.5-1.8c0.8-0.2 1.6-0.3 2.5-0.5c0.8-0.2 1.6-0.5 2.4-0.7c0.8-0.1 1.7-0.2 2.5-0.4c0.8-0.2 1.6-0.6 2.5-1c0.8-0.3 1.6-0.7 2.4-1.1c0.8-0.4 1.6-0.7 2.4-1.2c0.8-0.5 1.6-2.3 2.4-2.7c0.8-0.4 1.6-0.4 2.3-0.8c0.8-0.4 1.6-2.2 2.4-2.6c0.8-0.4 1.7-0.5 2.5-0.7c0.8-0.3 1.6-0.5 2.4-0.9c0.8-0.3 1.6-1 2.5-1.2c0.8-0.1 1.6-0.1 2.4-0.2c0.8-0.1 1.6-0.7 2.4-1c0.9-0.3 1.7-0.5 2.5-0.8c0.9-0.4 1.7-1.4 2.6-1.5c0.8-0.1 1.7-0.1 2.6-0.2c0.8-0 1.7-0.1 2.6-0.3c0.8-0.1 1.7-0.3 2.6-0.6c0.7-0.3 1.5-1.1 2.3-1.7c0.7-0.5 1.5-1.4 2.3-1.9c0.7-0.4 1.5-0.8 2.3-1.1c0.8-0.3 1.7-0.5 2.5-0.7c0.9-0.1 1.8-0.1 2.6-0.2c0.9-0.2 1.8-0.2 2.6-0.4c0.9-0.2 1.8-1.1 2.6-1.3c0.9-0.2 1.7-0.2 2.6-0.4c0.9-0.2 1.7-0.7 2.6-0.9c0.8-0.3 1.6-0.5 2.4-0.8c0.8-0.4 1.6-1 2.4-1.4c0.8-0.3 1.6-0.5 2.4-0.8c0.9-0.3 1.7-0.7 2.5-0.9c0.8-0.2 1.6-0.3 2.4-0.5c0.8-0.2 1.6-0.8 2.5-0.8c0.8 0 1.6 0.3 2.4 0.3c0.8-0 1.7-1.7 2.5-1.7c0.8-0 1.6 0.9 2.4 0.9c0.9-0 1.7-0.7 2.5-1c0.8-0.2 1.7-0.3 2.5-0.5c0.8-0.1 1.6-0.2 2.4-0.3c0.9-0.1 1.7-0.1 2.5-0.2c0.8-0.1 1.7-0.8 2.5-0.8c0.8-0.1 1.6-0.1 2.4-0.1c0.9-0 1.7 0.1 2.5 0.1c0.8-0 1.7-1.3 2.5-1.3c0.8-0.1 1.6-0.1 2.4-0.1c0.9-0.1 1.7-0.5 2.5-0.5c0.9-0 1.9 0.2 2.8 0.2c0.9-0 1.8-0.9 2.7-1.1c1-0.2 1.9-0.5 2.8-0.5c0.9-0 1.8-0 2.8-0c0.9-0 1.8-0.4 2.7-0.7c0.9-0.2 1.7-0.5 2.5-0.6c0.9-0.2 1.7-0.4 2.5-0.4c0.9-0 1.7 1 2.6 1c0.8 0 1.6-0 2.5-0.1c0.8-0 1.6-0 2.5-0.1c0.8 0 1.7-0.1 2.5-0.2c0.8-0.1 1.7-0.5 2.5-0.5c0.8 0 1.7 1.1 2.5 1.1c0.9-0 1.7-0.4 2.5-0.6c0.9-0.1 1.7-0.4 2.5-0.4c0.9 0 1.7 0.3 2.5 0.3c0.9 0 1.8-0.2 2.6-0.2c0.9-0 1.8 0.7 2.6 0.7c0.9 0 1.8 0 2.6 0c0.9 0 1.7-0 2.6-0.1c0.9-0.1 1.7-0.7 2.6-0.7c0.9-0 1.7 0.3 2.6 0.4c0.9 0.1 1.7 0.4 2.6 0.4c0.8-0 1.7-0.7 2.6-0.8c0.8-0 1.7-0.1 2.6-0.1c0.8 0 1.7 0.5 2.5 0.5c0.9-0 1.8-0.4 2.6-0.4c0.9 0 1.8 0.8 2.6 0.8c0.9-0 1.8-0.9 2.6-0.9c0.9-0 1.7 0.2 2.6 0.4c1.2 0.3 2.3 1.7 3.5 3.5c1.1 1.7 2.3 7.8 3.4 10.3c1.2 2.6 2.3 5.4 3.5 6.1c0.8 0.5 1.7 0.7 2.6 0.9c0.8 0.3 1.7 0.6 2.5 0.8c0.9 0.2 1.8 0.4 2.6 0.5c0.9 0.2 1.8 0.4 2.6 0.4c0.9 0 1.7 0 2.6 0c0.9 0 1.7 0.5 2.6 0.8c1 0.4 1.9 1.9 2.9 1.9c0.9 0 1.9-0.1 2.9-0.1c0.9-0 1.9 1 2.8 1.7c1 0.6 2 1.5 2.9 2.4c1 1 1.9 2.6 2.9 3.4c0.9 0.8 1.9 1.1 2.9 1.9c0.9 0.9 1.9 2.4 2.8 3.6c1 1.2 2 2.7 2.9 3.8c1 1.1 1.9 1.8 2.9 3c0.8 1 1.5 2.5 2.3 3.7c0.8 1.3 1.5 2.8 2.3 3.9c0.8 1 1.5 1.7 2.3 2.8c1.3 1.7 2.5 4 3.8 6"/></defs><use href="#c6dm" class="cu1"/><use href="#c6dm" class="cu2"/>
<g filter="url(#bt)">
<g class="ax" font-size="13.1" text-anchor="end">
<text x="1744.3" y="730.1">0</text>
<text x="1744.3" y="773.5">-10</text>
<text x="1744.3" y="816.8">-20</text>
<text x="1744.3" y="860.2">-30</text>
<text x="1744.3" y="903.5">-40</text>
<text x="1744.3" y="946.9">-50</text>
<text x="1744.3" y="990.3">-60</text>
<text x="1744.3" y="1033.6">-70</text>
<text x="1744.3" y="1077">-80</text>
<text x="1744.3" y="1120.3">-90</text>
<text x="1744.3" y="1163.7">-100</text>
</g>
<g class="ax" font-size="11.6" text-anchor="middle">
<text x="1737.4" y="1175.1" text-anchor="start">0.01</text>
<text x="1930.7" y="1175.1">0.1</text>
<text x="2117.5" y="1175.1">1.0</text>
<text x="2132.5" y="1175.1" text-anchor="start" letter-spacing="0.7">MHz</text>
<text x="2303.5" y="1175.1">10</text>
<text x="2393.2" y="1175.1" text-anchor="end">30</text>
</g>
<g class="cv" font-size="16.7">
<text x="1939.5" y="766.2">CM</text>
<text x="2025.5" y="834">DM</text>
</g>
</g>
<text class="nm" x="2054.3" y="1242.8" text-anchor="middle">30A</text>
</g>
<g id="chart7">
<path class="gm1" d="M167.8 1279.4V1724.8M201.6 1279.4V1724.8M225.6 1279.4V1724.8M244.2 1279.4V1724.8M259.4 1279.4V1724.8M272.3 1279.4V1724.8M283.4 1279.4V1724.8M293.2 1279.4V1724.8M359.8 1279.4V1724.8M393.6 1279.4V1724.8M417.6 1279.4V1724.8M436.2 1279.4V1724.8M451.4 1279.4V1724.8M464.2 1279.4V1724.8M475.4 1279.4V1724.8M485.2 1279.4V1724.8M551.8 1279.4V1724.8M585.6 1279.4V1724.8M609.5 1279.4V1724.8M628.2 1279.4V1724.8M643.4 1279.4V1724.8M656.2 1279.4V1724.8M667.3 1279.4V1724.8M677.2 1279.4V1724.8M743.7 1279.4V1724.8"/><path class="gm2" d="M167.8 1279.4V1724.8M201.6 1279.4V1724.8M225.6 1279.4V1724.8M244.2 1279.4V1724.8M259.4 1279.4V1724.8M272.3 1279.4V1724.8M283.4 1279.4V1724.8M293.2 1279.4V1724.8M359.8 1279.4V1724.8M393.6 1279.4V1724.8M417.6 1279.4V1724.8M436.2 1279.4V1724.8M451.4 1279.4V1724.8M464.2 1279.4V1724.8M475.4 1279.4V1724.8M485.2 1279.4V1724.8M551.8 1279.4V1724.8M585.6 1279.4V1724.8M609.5 1279.4V1724.8M628.2 1279.4V1724.8M643.4 1279.4V1724.8M656.2 1279.4V1724.8M667.3 1279.4V1724.8M677.2 1279.4V1724.8M743.7 1279.4V1724.8"/>
<path class="gh1" d="M110.6 1323.9H775.8M110.6 1368.5H775.8M110.6 1413H775.8M110.6 1457.6H775.8M110.6 1502.1H775.8M110.6 1546.6H775.8M110.6 1591.2H775.8M110.6 1635.7H775.8M110.6 1680.3H775.8"/><path class="gh2" d="M110.6 1323.9H775.8M110.6 1368.5H775.8M110.6 1413H775.8M110.6 1457.6H775.8M110.6 1502.1H775.8M110.6 1546.6H775.8M110.6 1591.2H775.8M110.6 1635.7H775.8M110.6 1680.3H775.8"/>
<path class="gd1" d="M302 1279.4V1724.8M494 1279.4V1724.8M685.9 1279.4V1724.8"/><path class="gd2" d="M302 1279.4V1724.8M494 1279.4V1724.8M685.9 1279.4V1724.8"/>
<path class="fr1" d="M110.6 1279.4H775.8"/><path class="fr2" d="M110.6 1279.4H775.8"/>
<path class="fa1" d="M110.6 1278.4V1724.8H775.8V1278.4"/><path class="fa2" d="M110.6 1278.4V1724.8H775.8V1278.4"/>
<path d="M111.1 1281.2l4.5 -2.8l-4.5 0z" style="fill:#555;stroke:none;fill-opacity:.8"/>
<defs><path id="c7cm" d="M110.8 1284.3c15.3 0 30.5 0 45.8 0c3.3 0 6.7 1.1 10 1.8c5.1 0.9 10.1 2.2 15.1 3.3c6.7 1.4 13.4 2.8 20.1 4.3c7.6 1.6 15.1 3.2 22.7 5c6.7 1.6 13.4 3.7 20.1 5.1c5 1 10 1.9 15.1 2.5c4.2 0.5 8.4 1 12.6 1.2c3.3 0.3 6.7 0.3 10 0.6c3.4 0.2 6.7 1 10.1 2c2.5 0.7 5 2.1 7.5 3.8c1 0.6 2 1.5 3 2.5c1.5 1.5 3.1 4 4.6 6.3c2.5 3.8 5 8.2 7.5 12.6c3.4 6 6.7 13.1 10.1 19c3.3 5.8 6.7 10.9 10 16.4c3.4 5.5 6.7 11.4 10.1 16.4c3.3 5 6.7 8.7 10 13.9c1.7 2.6 3.4 6.1 5.1 8.9c1.6 2.7 3.3 5.5 5 7.5c4.2 5.2 8.4 8.8 12.6 12.7c5 4.6 10 9 15.1 12.6c7.5 5.4 15 9.8 22.6 13.9c6.8 3.7 13.7 6.8 20.5 9.8c3.9 1.8 7.8 3.4 11.6 5c2.2 0.8 4.3 2.3 6.4 2.3c1.2 0 2.5-2 3.7-2c1.8 0 3.6 0.6 5.4 1.1c3.8 1.1 7.6 5.4 11.3 7.7c6.3 3.9 12.5 7.6 18.8 10.6c3 1.5 6.1 2.7 9.1 4.1c4.9 2.1 9.7 4.4 14.6 6.4c1.6 0.6 3.2 1.3 4.9 1.8c0.8 0.2 1.6 0.5 2.4 0.6c0.8 0.1 1.6 0.1 2.4 0.3c0.8 0.2 1.6 2 2.4 2c0.9 0 1.7-0.2 2.5-0.2c0.8 0 1.6 0.3 2.4 0.6c0.9 0.3 1.7 1.4 2.5 2c0.8 0.6 1.6 1.2 2.5 1.7c0.8 0.4 1.6 0.7 2.4 1.1c0.8 0.4 1.7 1 2.5 1.2c0.8 0.3 1.6 0.3 2.4 0.5c0.9 0.3 1.7 2.4 2.5 2.6c0.8 0.3 1.6 0.3 2.5 0.4c0.8 0.2 1.7 0.3 2.5 0.6c0.9 0.3 1.7 0.9 2.6 1.2c0.8 0.4 1.7 0.8 2.5 1c0.8 0.1 1.6 0.2 2.4 0.3c0.8 0.1 1.7 0.2 2.5 0.3c0.8 0.1 1.6 0.1 2.4 0.3c0.9 0.2 1.8 1 2.7 1.6c0.9 0.6 1.9 1.3 2.8 2c0.8 0.7 1.6 1.8 2.4 2.2c0.9 0.4 1.7 0.4 2.5 0.8c0.8 0.4 1.7 1.7 2.5 1.9c0.8 0.2 1.6 0.1 2.5 0.3c0.8 0.1 1.6 1.5 2.5 2.2c0.8 0.6 1.7 1.2 2.6 1.6c0.9 0.5 1.7 0.6 2.6 1c0.9 0.5 1.8 1.2 2.6 1.7c0.9 0.5 1.8 0.9 2.7 1.3c0.8 0.5 1.7 0.8 2.6 1.3c0.8 0.5 1.6 1.3 2.4 1.8c0.8 0.5 1.6 0.8 2.4 1.3c0.8 0.4 1.6 1 2.4 1.6c0.8 0.5 1.6 1 2.4 1.5c0.8 0.5 1.6 0.9 2.4 1.5c0.9 0.6 1.8 1.7 2.7 2.5c0.9 0.8 1.8 1.5 2.7 2.2c0.9 0.8 1.8 1.4 2.6 2.2c0.9 0.8 1.8 2 2.7 2.7c0.9 0.7 1.8 1 2.7 1.8c0.9 0.8 1.8 3 2.7 3.7c0.9 0.7 1.8 0.7 2.7 1.4c0.8 0.6 1.6 1.9 2.5 2.8c0.8 1 1.6 2.1 2.5 2.8c0.8 0.7 1.6 1 2.4 1.7c0.9 0.7 1.7 2.1 2.6 3c0.8 0.9 1.7 1.5 2.5 2.5c0.9 1 1.7 2.4 2.6 3.6c1 1.4 1.9 2.7 2.9 4.2c1 1.6 2 3.5 2.9 5.3c1 1.7 2 3.6 2.9 5.2c1 1.5 1.9 2.8 2.8 4.3c0.9 1.5 1.8 3.7 2.7 4.8c0.9 1.2 1.8 1.9 2.7 2.8c1 0.9 1.9 2.7 2.8 2.7c0.7 0 1.4-4.4 2.2-6.4c0.7-1.9 1.4-3.9 2.1-5.5c1-2.1 2-3.8 3-5.5c1.2-2 2.4-3.3 3.6-5.4c0.6-1.1 1.2-2.5 1.8-3.7c0.9-1.8 1.9-3.5 2.8-5.2c0.9-1.7 1.8-3.4 2.7-4.9c0.8-1.3 1.6-2.6 2.5-3.8c0.8-1.2 1.6-2.1 2.4-3.5c1-1.7 2-4.3 3-6.6c1-2.2 2-5.4 3-7.1c0.8-1.4 1.7-3.1 2.5-3.3c0.8-0.1 1.6-0.1 2.4-0.2c0.8-0.2 1.6-2 2.4-2.9c0.9-1.1 1.8-2 2.8-2.9c0.9-0.9 1.8-1.6 2.7-2.5c0.9-1 1.8-2.9 2.7-3.7c0.9-0.8 1.8-1.2 2.8-1.9c0.9-0.7 1.8-1.3 2.7-2.2c0.9-0.8 1.8-2.4 2.7-3.1c0.9-0.6 1.8-0.8 2.8-1.3c0.9-0.6 1.8-1.6 2.7-2.4c0.9-0.8 1.8-1.6 2.7-2.4c0.9-0.8 1.8-1.6 2.8-2.3c0.8-0.8 1.7-1.4 2.6-2.1c0.9-0.7 1.8-1.4 2.7-2c0.9-0.7 1.8-1.5 2.7-2c0.9-0.6 1.8-0.9 2.6-1.5c0.9-0.5 1.8-1.6 2.7-2.3c0.9-0.7 1.8-1.4 2.7-2c0.8-0.7 1.7-1.5 2.5-1.9c0.8-0.4 1.6-0.5 2.5-1c0.8-0.5 1.6-2.1 2.5-3c0.8-1 1.6-1.7 2.5-2.5c0.8-0.8 1.6-2.1 2.4-2.6c0.9-0.5 1.7-0.5 2.5-0.9c0.9-0.5 1.8-2.6 2.7-2.9c0.9-0.3 1.8-0.2 2.6-0.5c0.9-0.2 1.8-0.7 2.7-1.3c0.9-0.6 1.8-1.9 2.7-2.6c0.8-0.7 1.7-1.3 2.6-1.8c0.9-0.5 1.8-0.8 2.7-1.2c0.9-0.5 1.7-1.1 2.6-1.6"/></defs><use href="#c7cm" class="cu1"/><use href="#c7cm" class="cu2"/>
<defs><path id="c7dm" d="M110.8 1340.4c13.2-0 26.3-0 39.5-0c1.7-0 3.3-1.4 5-2.5c2.1-1.5 4.2-5 6.3-7.6c2.5-3.2 5-7.4 7.5-10.1c2.6-2.7 5.1-5.5 7.6-6.8c1.3-0.7 2.5-1.6 3.8-1.6c1.6 0 3.3 0.9 5 1.6c2.9 1.1 5.9 3.3 8.8 5.5c3.3 2.6 6.7 7.1 10.1 10.1c6.7 6.1 13.4 11.4 20.1 16.4c6.7 5.1 13.4 9.7 20.1 13.9c5.9 3.7 11.7 6.8 17.6 10.1c5.9 3.4 11.7 7.1 17.6 10.1c7.7 4 15.4 7.5 23.1 10.6c7.4 3.1 14.8 6 22.2 8.4c5 1.6 10 3.3 15.1 4.3c5 1 10 2.3 15 2.3c4.2-0 8.4-0.1 12.6-0.3c3.4-0.1 6.7-2.1 10.1-3.8c2.5-1.2 5-2.8 7.5-5c1.7-1.5 3.4-3.8 5-6.4c1.7-2.5 3.4-7.2 5.1-10.1c1.2-2.1 2.5-5.1 3.7-5.5c1.3-0.5 2.6-0.8 3.8-0.8c0.9 0 1.7 2.1 2.5 3.8c1.3 2.6 2.5 8.3 3.8 12.6c2.1 7.3 4.2 15.9 6.3 22.8c2.5 8.3 5 15.8 7.5 22.7c3.4 9.2 6.7 17.2 10.1 25.3c2.5 6.1 5 13.4 7.5 17.7c1.8 2.9 3.5 4.4 5.2 7c1.5 2.2 3.1 3.8 4.6 7.3c1.2 2.8 2.4 12.4 3.6 13.7c1.5 1.7 3.1 1.5 4.6 2.8c1.5 1.3 3 5.3 4.5 7.3c2.2 2.9 4.3 4.8 6.4 7.3c0.8 1 1.7 2.1 2.5 3c0.8 0.9 1.6 1.7 2.4 2.5c0.9 0.9 1.7 1.8 2.5 2.6c0.9 0.7 1.7 1.1 2.5 1.9c0.9 0.9 1.7 2.6 2.6 3.5c0.8 0.9 1.6 1.4 2.5 2.1c0.9 0.8 1.9 1.5 2.9 2.3c0.9 0.7 1.9 1.4 2.9 2.1c1 0.7 1.9 1.4 2.9 2c0.9 0.5 1.7 0.9 2.6 1.5c0.8 0.6 1.7 1.6 2.5 2c0.9 0.5 1.7 0.7 2.6 1.1c0.8 0.4 1.7 1.2 2.5 1.6c0.9 0.3 1.7 0.5 2.6 0.8c0.9 0.2 1.8 0.4 2.7 0.6c0.9 0.2 1.8 0.5 2.7 0.7c0.9 0.2 1.8 0.3 2.8 0.5c0.9 0.2 1.8 1 2.7 1.3c0.8 0.2 1.6 0.5 2.4 0.5c0.8-0 1.6-0.6 2.5-0.6c0.8-0 1.6 1.9 2.4 1.9c1.2-0 2.4-3.1 3.6-3.1c0.8-0 1.6 0.4 2.5 0.4c0.8 0 1.6-0.9 2.4-1.1c0.8-0.2 1.6-0.4 2.4-0.4c1-0 2 0.1 3.1 0.2c1 0.1 2 0.6 3 0.6c1-0 2-0.2 3-0.3c0.8-0 1.6-0.1 2.3-0.1c0.8-0 1.6 0.3 2.3 0.3c0.8-0 1.6-0.1 2.4-0.2c0.9-0 1.9-0.1 2.9-0.2c0.9-0.2 1.9-0.5 2.9-1c0.8-0.5 1.6-2.4 2.4-2.4c0.8 0 1.6 0 2.4 0c0.9 0 1.7-2 2.5-2.4c0.8-0.4 1.6-0.6 2.4-0.8c0.8-0.2 1.6-0.3 2.4-0.6c0.8-0.3 1.7-1 2.5-1.2c1-0.2 2.1-0.5 3.2-0.5c1 0 2.1 0.5 3.1 0.5c1 0 2-1.1 3-1.4c1-0.4 2.1-0.8 3.1-0.9c0.8-0.1 1.7-0.1 2.6-0.2c0.9-0.1 1.7-1.6 2.6-2.1c0.9-0.4 1.8-0.7 2.6-0.9c0.9-0.2 1.8-0.3 2.7-0.6c0.8-0.2 1.7-1 2.6-1.2c0.8-0.1 1.6-0.1 2.4-0.2c0.8-0.2 1.6-2.9 2.4-2.9c0.8 0 1.6 1 2.4 1c0.8-0 1.6-1.1 2.4-1.6c0.8-0.4 1.6-0.9 2.4-1c0.9-0.2 1.8-0.2 2.7-0.3c0.9-0.2 1.8-1.6 2.7-1.6c0.9-0.1 1.8-0.1 2.6-0.1c0.9-0 1.8-0 2.7-0.1c0.9-0 1.8-1.1 2.7-1.5c0.9-0.4 1.8-0.8 2.7-1c0.9-0.2 1.8-0.2 2.7-0.4c0.8-0.2 1.7-0.6 2.5-0.8c0.8-0.2 1.7-0.7 2.5-0.7c0.9 0 1.7 0.1 2.5 0.1c0.9-0 1.7-0.6 2.6-0.9c0.8-0.3 1.6-0.8 2.5-1c0.8-0.2 1.7-0.4 2.5-0.4c0.9 0 1.7 0.1 2.6 0.1c0.8 0 1.7-0.9 2.6-1.2c0.8-0.2 1.7-0.4 2.6-0.4c0.8-0 1.7 1.6 2.5 1.6c0.9-0 1.8-1.5 2.6-1.5c1-0.1 1.9-0.1 2.8-0.1c0.9 0 1.9 1.3 2.8 1.3c0.9 0 1.8-0.6 2.8-0.6c0.9 0 1.8 0.2 2.7 0.3c0.8 0 1.5 0 2.2 0.1c0.8 0 1.5 0.5 2.2 0.5c0.8 0 1.5-0 2.2-0.1c0.9-0 1.8-2.7 2.7-4.5c1.3-2.4 2.5-7.4 3.7-9.2c0.7-1.1 1.5-1.8 2.3-2.5c0.7-0.7 1.5-1.7 2.2-1.7c0.9 0 1.7 0.5 2.5 0.9c0.8 0.4 1.6 1.1 2.4 1.6c0.8 0.5 1.6 1.2 2.4 1.4c0.9 0.2 1.8 0.2 2.6 0.3c0.9 0.2 1.8 0.8 2.6 1.2c0.9 0.3 1.8 1.1 2.6 1.1c0.9 0 1.8-0.9 2.6-0.9c0.9-0 1.8 0.4 2.6 0.7c0.9 0.3 1.8 1.3 2.7 1.4c0.8 0.1 1.7 0.1 2.6 0.2c0.9 0.1 1.8 0.5 2.7 0.8c0.9 0.3 1.8 0.8 2.7 0.8c0.9 0 1.8-0.3 2.8-0.3c0.9-0 1.8 1 2.7 1.2c0.9 0.1 1.8 0.1 2.7 0.2c0.9 0.1 1.8 0.6 2.8 0.6c0.8-0 1.6-0.1 2.4-0.1c0.8-0 1.6 1.6 2.4 1.6c0.8 0 1.6-0.3 2.4-0.3c0.9 0 1.7 1.6 2.5 1.7c0.8 0.1 1.6 0.1 2.4 0.2c0.8 0.1 1.6 0.5 2.4 0.9c1 0.5 2.1 1.4 3.1 2.4c1 0.9 2 2.9 3 3.5c1 0.7 2 0.8 3 1.4c1 0.5 1.9 1.8 2.8 2.2c0.9 0.4 1.8 0.4 2.7 0.8c0.9 0.3 1.8 0.9 2.7 1.3c1 0.5 1.9 0.9 2.8 1.2c1 0.3 2 0.4 3 0.7c1 0.4 2 1.9 3.1 2.1c1 0.3 2 0.2 3 0.5c1 0.3 1.9 2.3 2.9 3.3c1 0.9 1.9 1.7 2.9 2.6"/></defs><use href="#c7dm" class="cu1"/><use href="#c7dm" class="cu2"/>
<g filter="url(#bt)">
<g class="ax" font-size="13.5" text-anchor="end">
<text x="111" y="1284.2">0</text>
<text x="111" y="1328.8">-10</text>
<text x="111" y="1373.3">-20</text>
<text x="111" y="1417.9">-30</text>
<text x="111" y="1462.4">-40</text>
<text x="111" y="1506.9">-50</text>
<text x="111" y="1551.5">-60</text>
<text x="111" y="1596">-70</text>
<text x="111" y="1640.6">-80</text>
<text x="111" y="1685.1">-90</text>
<text x="111" y="1729.6">-100</text>
</g>
<g class="ax" font-size="11.9" text-anchor="middle">
<text x="104" y="1741.3" text-anchor="start">0.01</text>
<text x="303" y="1741.3">0.1</text>
<text x="495.2" y="1741.3">1.0</text>
<text x="510.6" y="1741.3" text-anchor="start" letter-spacing="0.7">MHz</text>
<text x="686.4" y="1741.3">10</text>
<text x="778.8" y="1741.3" text-anchor="end">30</text>
</g>
<g class="cv" font-size="17.1">
<text x="317.4" y="1328.2">CM</text>
<text x="417.5" y="1393.6">DM</text>
</g>
</g>
<text class="nm" x="431.6" y="1803" text-anchor="middle">50A</text>
</g>
</svg></body></html>
